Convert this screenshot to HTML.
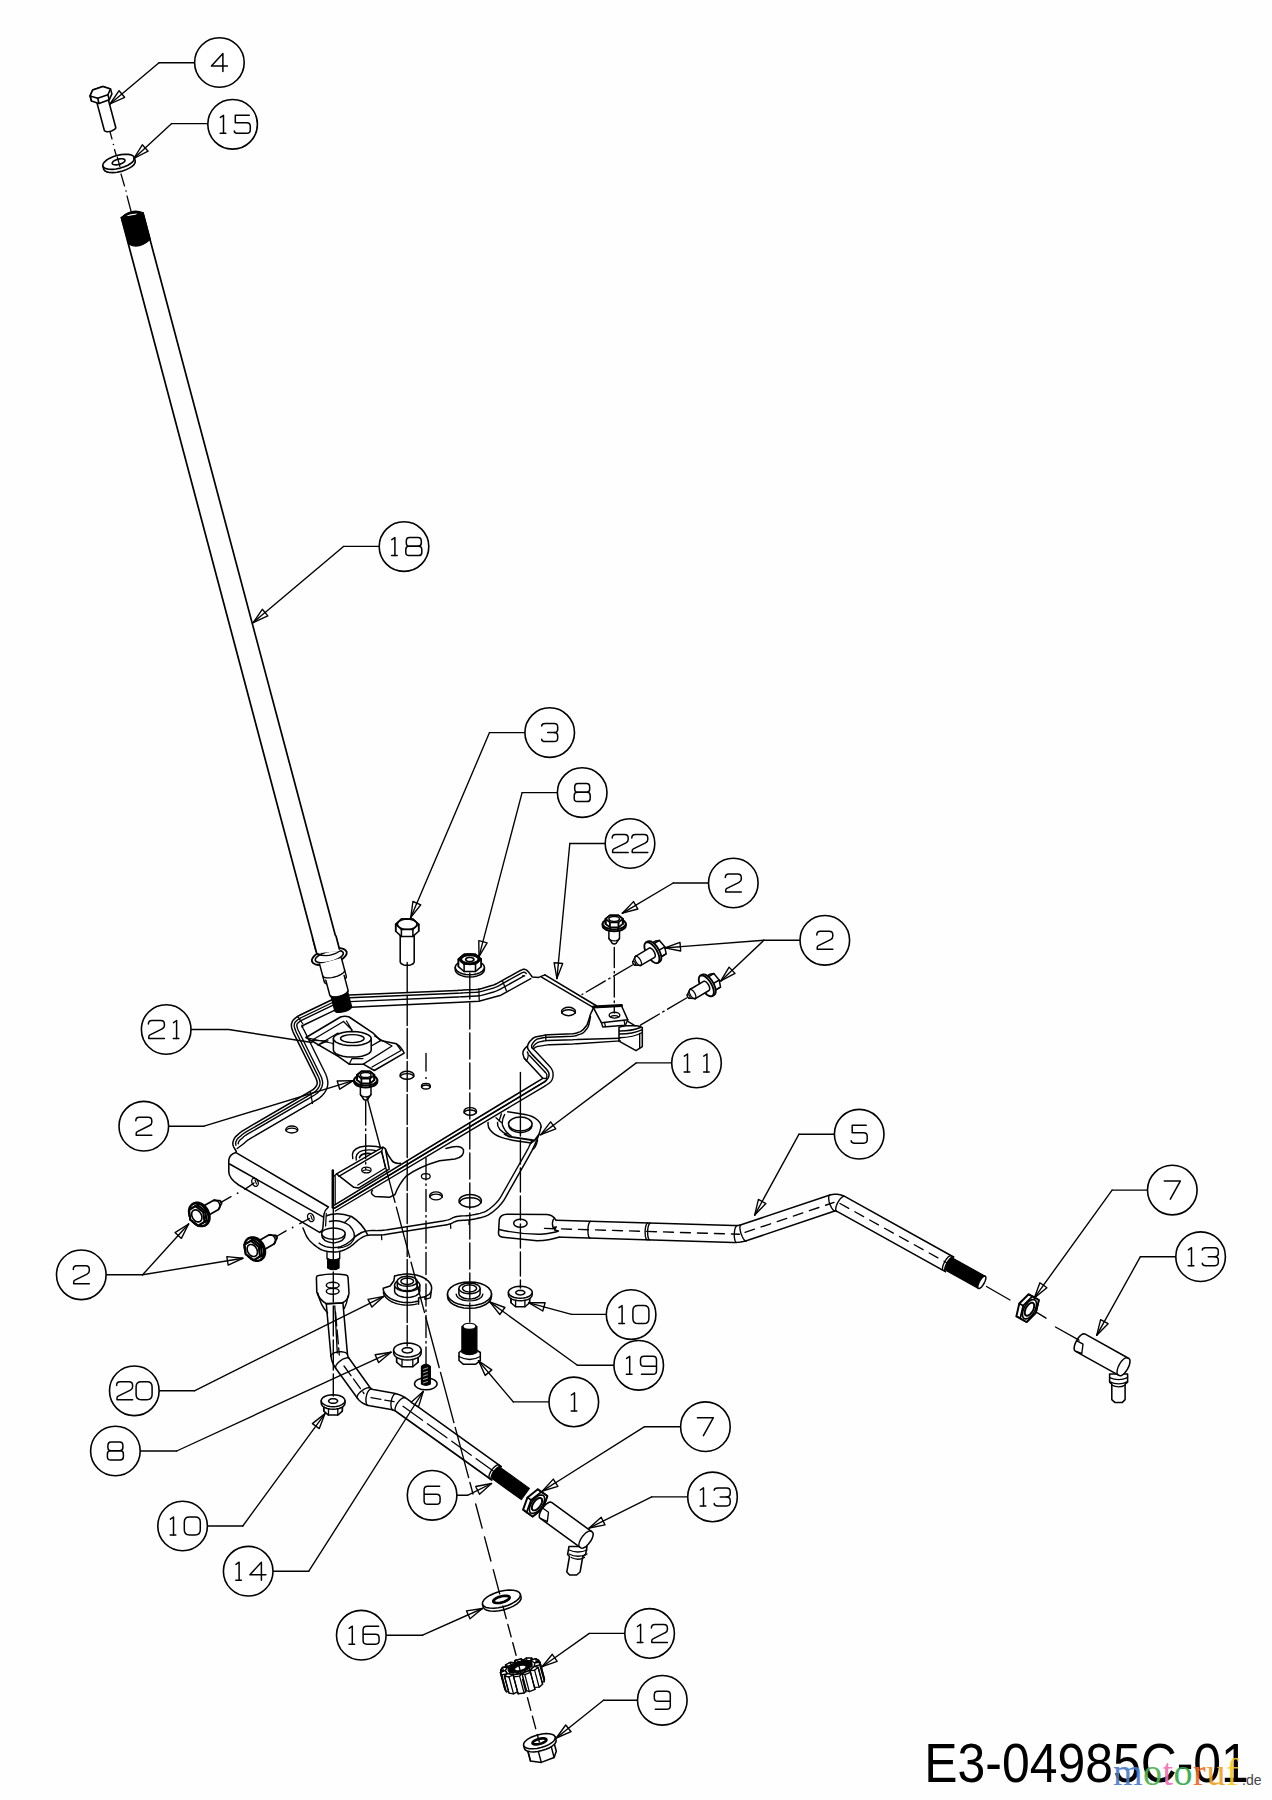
<!DOCTYPE html>
<html><head><meta charset="utf-8"><title>E3-04985C-01</title>
<style>
html,body{margin:0;padding:0;background:#fefefe;}
svg{display:block;}
text{font-family:"Liberation Sans",sans-serif;}
.wm{font-family:"Liberation Serif",serif;}
</style></head><body>
<svg width="1272" height="1800" viewBox="0 0 1272 1800" stroke-linecap="round" stroke-linejoin="round">
<rect x="0" y="0" width="1272" height="1800" fill="#fefefe"/>
<!-- axes -->
<polyline points="109.5,130 112,139" fill="none" stroke="#000" stroke-width="1.25"/>
<polyline points="114.5,149.5 117,158" fill="none" stroke="#000" stroke-width="1.25"/>
<polyline points="121,174 124.5,186" fill="none" stroke="#000" stroke-width="1.25"/>
<polyline points="127,196 131.5,213" fill="none" stroke="#000" stroke-width="1.25"/>
<circle cx="113.4" cy="144.5" r="0.8" fill="#000"/>
<circle cx="126" cy="191" r="0.8" fill="#000"/>
<!-- shaft18 -->
<polyline points="121.3,217.5 316.1,951" fill="none" stroke="#000" stroke-width="1.71"/>
<polyline points="142.9,212.8 338.7,948" fill="none" stroke="#000" stroke-width="1.71"/>
<path d="M121.3 217.5 L128.9 244.3 Q139 249.5 150.3 239.4 L143.2 212.8 Q132 207.5 121.3 217.5Z" fill="#000" stroke="#000" stroke-width="1.14"/>
<ellipse cx="132.2" cy="214.7" rx="8.6" ry="2.6" fill="#000" stroke="#000" stroke-width="1.03" transform="rotate(-12 132.2 214.7)"/>
<ellipse cx="132.2" cy="214.7" rx="5.6" ry="1.2" fill="#fff" stroke="#000" stroke-width="1.03" transform="rotate(-12 132.2 214.7)"/>
<!-- bolt4_washer15 -->
<polyline points="95.9,98.9 104.3,130.3 104.7,130.9 105.4,131.3 106.4,131.6 107.7,131.7 109.1,131.5 110.6,131.2 112.1,130.7 113.4,130.1 114.5,129.4 115.3,128.7 115.7,128 115.7,127.3 107.3,95.9" fill="#fff" stroke="#000" stroke-width="1.6"/>
<polygon points="90.1,95.9 92.7,90 102.9,86.5 110.5,88.9 111.9,93.9 109.2,99.8 99,103.4 91.4,100.9" fill="#fff" stroke="#000" stroke-width="1.6"/>
<polygon points="90.1,95.9 97.7,98.3 107.9,94.8 110.5,88.9 102.9,86.5 92.7,90" fill="#fff" stroke="#000" stroke-width="1.6"/>
<polyline points="90.1,95.9 91.4,100.9" fill="none" stroke="#000" stroke-width="1.6"/>
<polyline points="97.7,98.3 99,103.4" fill="none" stroke="#000" stroke-width="1.6"/>
<polyline points="107.9,94.8 109.2,99.8" fill="none" stroke="#000" stroke-width="1.6"/>
<polyline points="102.8,166 103.7,169.3 104.7,170.8 106.7,171.9 109.5,172.5 113.1,172.6 117,172.3 121.2,171.4 125.2,170.1 128.8,168.4 131.8,166.6 134,164.6 135.1,162.7 135.2,160.9 134.4,157.6" fill="#fff" stroke="#000" stroke-width="1.6"/>
<polygon points="102.8,166 103.8,167.5 105.8,168.6 108.7,169.2 112.2,169.4 116.1,169 120.3,168.1 124.3,166.8 127.9,165.2 130.9,163.3 133.1,161.3 134.2,159.4 134.4,157.6 133.4,156.1 131.4,155 128.5,154.4 125,154.2 121.1,154.6 116.9,155.5 112.9,156.8 109.3,158.4 106.3,160.3 104.1,162.3 103,164.2 102.8,166" fill="#fff" stroke="#000" stroke-width="1.6"/>
<polygon points="112.2,163.5 112.6,164.1 113.4,164.5 114.6,164.8 116,164.9 117.6,164.7 119.3,164.4 120.9,163.8 122.4,163.2 123.6,162.4 124.5,161.6 124.9,160.8 125,160.1 124.6,159.5 123.8,159.1 122.6,158.8 121.2,158.7 119.6,158.9 117.9,159.2 116.3,159.8 114.8,160.4 113.6,161.2 112.7,162 112.3,162.8 112.2,163.5" fill="#fff" stroke="#000" stroke-width="1.6"/>
<polyline points="117.3,157 119.9,166.5" fill="none" stroke="#000" stroke-width="1.25"/>
<!-- plate11 -->
<polyline points="541,1127 540.1,1130.6 539.7,1131.9 539.3,1133.3 538.7,1134.9 538.1,1136.7 537.3,1138.6 536.5,1140.7 535.6,1142.7 534.7,1144.9 533.7,1147 532.7,1149.1 531.7,1151.2 530.6,1153.2 529.4,1155.3 505,1198.4 503.8,1200.4 502.4,1202.3 501,1204.1 499.5,1205.8 497.9,1207.5 496.2,1209 493.3,1211.5 491.5,1212.9 489.6,1214.2 487.6,1215.3 485.6,1216.2 483.4,1216.9 481.2,1217.5 475.8,1218.8 473.6,1219.2 471.4,1219.6 469.2,1219.9 467.1,1220.1 465,1220.3 463,1220.3 461.1,1220.4 459.3,1220.5 457.7,1220.8 456.2,1221.2 454.9,1221.7 453.8,1222.2 452.6,1222.9 451.2,1223.5 449.6,1224 447.8,1224.5 445.8,1224.9 443.6,1225.3 388.2,1234.1 385.9,1234.4 383.6,1234.7 381.3,1234.9 379,1234.9 376.7,1235 374.4,1234.9 372.2,1234.9 370.1,1235 368.2,1235.2 366.4,1235.6 364.7,1236.1 363.2,1236.8 361.8,1237.6 360.4,1238.5 358.9,1239.5 357.5,1240.6 356,1241.9 354.5,1243.2 353,1244.6 351.3,1245.9 349.6,1247.1 347.8,1248.1 346,1249.1 344,1250 342,1250.7 339.9,1251.3 337.8,1251.7 335.6,1251.9 333.3,1252 331,1251.8 329,1251.7 326.7,1251.3 324.5,1250.8 322.4,1250.1 320.3,1249.2 318.4,1248 316.5,1246.7 313.5,1244.3 311.8,1242.8 310.2,1241.3 308.8,1239.6 307.5,1237.8 306.4,1236 305.5,1234 303,1228" fill="none" stroke="#000" stroke-width="1.48"/>
<polyline points="531.3,1142.9 531.6,1141 530.7,1143.1 529.7,1145.1 528.8,1147.2 527.8,1149.2 526.7,1151.2 525.6,1153.1 501.2,1196.2 500.1,1198 498.9,1199.7 497.6,1201.3 496.3,1202.8 494.9,1204.3 493.3,1205.7 490.5,1208.1 488.9,1209.3 487.3,1210.4 485.7,1211.3 483.9,1212.1 482.1,1212.7 480.1,1213.3 474.9,1214.5 472.7,1214.9 470.7,1215.3 468.7,1215.5 466.7,1215.7 464.8,1215.9 462.9,1215.9 460.8,1216 458.7,1216.2 456.8,1216.5 454.9,1217 453.1,1217.6 451.7,1218.3 450.7,1218.9 449.6,1219.3 448.3,1219.8 446.7,1220.2 444.9,1220.6 442.9,1221 387.6,1229.7 385.4,1230.1 383.2,1230.3 381,1230.5 378.9,1230.5 376.7,1230.6 374.5,1230.5 372.1,1230.5 369.7,1230.6 367.4,1230.9 365.2,1231.4 363.2,1232 361.3,1232.9 359.6,1233.8 358,1234.8 356.3,1236 354.7,1237.2 353.1,1238.6 351.6,1240 350.1,1241.2 348.7,1242.3 347.2,1243.4 345.7,1244.3 344,1245.2 342.3,1245.9 340.6,1246.6 338.9,1247 337.1,1247.4 335.3,1247.5 333.4,1247.6 331.4,1247.5 329.5,1247.3 327.5,1247 325.7,1246.6 324,1246 322.4,1245.2 320.8,1244.3 319.1,1243.1" fill="none" stroke="#000" stroke-width="1.37"/>
<polyline points="469,1220.3 469,1224.6" fill="none" stroke="#000" stroke-width="1.25"/>
<polyline points="381.5,1235.2 381.8,1239.6" fill="none" stroke="#000" stroke-width="1.25"/>
<polyline points="450.5,1224.2 450.8,1228.4" fill="none" stroke="#000" stroke-width="1.25"/>
<path d="M507.7 1111.8 L525 1114.6 Q533 1116 537.5 1120 Q541.5 1124 541 1127" fill="none" stroke="#000" stroke-width="1.48"/>
<path d="M504.6 1134.2 L509.3 1136.6 L534.5 1140.5 L539.2 1134.2" fill="none" stroke="#000" stroke-width="1.82"/>
<path d="M488.1 1122.5 Q487.5 1127 490.4 1130.3 Q494 1135 501.4 1137.4 Q508 1139.5 517.2 1140.9 L531.3 1142.9 L534.5 1140.5" fill="none" stroke="#000" stroke-width="1.48"/>
<path d="M497.5 1122.5 Q497 1126 499.9 1129.5 Q502.5 1132.5 506.9 1134.2" fill="none" stroke="#000" stroke-width="1.42"/>
<path d="M504.6 1114.6 Q501.5 1120 502.5 1125 Q504.5 1131.5 511 1135.8" fill="none" stroke="#000" stroke-width="1.42"/>
<polyline points="496,1117.7 501.4,1122.5" fill="none" stroke="#000" stroke-width="1.31"/>
<polyline points="501.4,1113.8 499.1,1121" fill="none" stroke="#000" stroke-width="1.31"/>
<path d="M532.5 1149.5 Q536 1147.5 537.6 1140" fill="none" stroke="#000" stroke-width="1.31"/>
<ellipse cx="520.3" cy="1124" rx="11.8" ry="7" fill="#fff" stroke="#000" stroke-width="1.54"/>
<path d="M508.9 1126.3 Q510 1131.5 520.3 1132.7 Q531 1131.5 531.9 1126.3" fill="none" stroke="#000" stroke-width="1.37"/>
<ellipse cx="470.2" cy="1200.8" rx="11.2" ry="6.4" fill="none" stroke="#000" stroke-width="1.48"/>
<path d="M459.3 1202.7 A11.2 6.4 0 0 1 481.1 1202.7" fill="none" stroke="#000" stroke-width="1.48"/>
<ellipse cx="436" cy="1195.9" rx="6.4" ry="4" fill="none" stroke="#000" stroke-width="1.37"/>
<path d="M429.8 1197.1 A6.4 4 0 0 1 442.2 1197.1" fill="none" stroke="#000" stroke-width="1.37"/>
<ellipse cx="425.8" cy="1176.3" rx="4.4" ry="2.8" fill="none" stroke="#000" stroke-width="1.25"/>
<path d="M446 1148.5 Q461 1144 463.5 1150 Q464.5 1157 455 1159 L439.5 1160.8 Q420 1166.5 406.5 1175.8 Q399 1184 395 1194.5 L389.5 1197.3 L375 1196.4 Q369.5 1194 372.5 1190" fill="none" stroke="#000" stroke-width="1.48"/>
<path d="M324.5 1216.5 Q336 1211 351.5 1216.5 Q362 1223 367.5 1234.6" fill="none" stroke="#000" stroke-width="1.48"/>
<path d="M329.5 1221.5 Q340 1219 349.5 1225.5 Q356.5 1233 353.5 1240 Q349 1247.5 338 1248" fill="none" stroke="#000" stroke-width="1.37"/>
<path d="M344.5 1222.5 L350 1217.5 M355.5 1236 L362 1232" fill="none" stroke="#000" stroke-width="1.25"/>
<ellipse cx="333.4" cy="1233.6" rx="11.8" ry="5.6" fill="#fff" stroke="#000" stroke-width="1.48"/>
<path d="M321.8 1235 Q321.5 1241 333.4 1243.2 Q345.5 1241 345 1235" fill="none" stroke="#000" stroke-width="1.37"/>
<polyline points="327,1251.5 327,1258.8" fill="none" stroke="#000" stroke-width="1.37"/>
<polyline points="339.7,1251.5 339.7,1258.8" fill="none" stroke="#000" stroke-width="1.37"/>
<path d="M327.6 1258.5 L327.6 1268 Q333.4 1271.5 339.1 1268 L339.1 1258.5 Q333.4 1261 327.6 1258.5Z" fill="#000" stroke="#000" stroke-width="1.14"/>
<!-- plate22 -->
<polygon points="236.3,1151.5 232.3,1144.5 234.2,1137.9 241.7,1131.3 304.9,1094.5 314.3,1088.9 317.6,1084 316.6,1079.5 292.8,1031.5 291,1025.5 292.5,1020.5 297.5,1016.3 333.5,999 349.3,995 460,990.3 478.9,989.3 494.6,984.8 521.3,969.9 524.5,969 527.6,970.7 532.3,977 538.6,977.4 544.9,974.9 596.8,1006 622,1005.7 627.5,1020.2 637.7,1026.2 642.4,1028 642.4,1046.9 636.9,1050 620.4,1040.6 546,1043.5 548,1044.8 536.2,1046.7 533.9,1049.5 550.8,1067.5 553.2,1076.9 547,1085.5 335.5,1211.3 328.4,1207 323,1229 319.6,1232.4 238.7,1185 228.8,1174 228.8,1158.6" fill="#fff" stroke="#fff" stroke-width="0.11"/>
<path d="M236 1152.6 L328.4 1207 Q324.5 1210.5 324 1214 L322.9 1228 Q322.5 1231.5 319.6 1232.4 L238.7 1185 Q229 1178.5 228.8 1172 L228.8 1160 Q229.5 1154.5 236 1152.6Z" fill="none" stroke="#000" stroke-width="1.54"/>
<polyline points="229.6,1164 323.4,1217.2" fill="none" stroke="#000" stroke-width="1.48"/>
<polyline points="326.3,1213.5 325.6,1226" fill="none" stroke="#000" stroke-width="1.25"/>
<ellipse cx="255" cy="1182.3" rx="3" ry="4.2" fill="none" stroke="#000" stroke-width="1.37" transform="rotate(-25 255 1182.3)"/>
<ellipse cx="310.8" cy="1217.5" rx="3" ry="4.2" fill="none" stroke="#000" stroke-width="1.37" transform="rotate(-25 310.8 1217.5)"/>
<polyline points="255,1180 256.5,1184" fill="none" stroke="#000" stroke-width="1.14"/>
<polyline points="310.8,1215.5 312.2,1219.5" fill="none" stroke="#000" stroke-width="1.14"/>
<polyline points="236.3,1151.5 233.8,1147.1 233.4,1146.2 233.1,1145.3 232.9,1144.4 232.8,1143.5 232.9,1142.6 233.1,1141.6 233.4,1140.8 233.7,1139.8 234.1,1139 234.6,1138.1 235.1,1137.3 235.7,1136.6 236.5,1135.9 239.4,1133.3 240.2,1132.6 241,1132 241.8,1131.4 242.6,1130.8 243.4,1130.3 244.3,1129.8 302.3,1096 303.2,1095.5 304,1095 304.9,1094.5 305.8,1094 306.6,1093.5 307.5,1093 311.7,1090.4 312.6,1089.9 313.3,1089.3 314.1,1088.7 314.7,1088 315.4,1087.2 316,1086.5 316.4,1085.6 316.8,1084.8 317.1,1084 317.2,1083.3 317.2,1082.5 317.1,1081.8 316.9,1081 316.7,1080.2 316.4,1079.4 316.1,1078.6 315.7,1077.7 315.3,1076.8 294.1,1034.2 293.7,1033.3 293.3,1032.4 292.9,1031.5 292.6,1030.5 292.2,1029.6 291.9,1028.6 291.9,1028.4 291.6,1027.4 291.5,1026.5 291.4,1025.6 291.4,1024.7 291.5,1023.8 291.8,1023 292,1022.2 292.4,1021.4 292.9,1020.6 293.4,1019.9 294.1,1019.2 294.8,1018.6 295.2,1018.2 296,1017.6 296.8,1017 297.6,1016.5 298.4,1015.9 299.3,1015.5 300.2,1015 333.5,999" fill="none" stroke="#000" stroke-width="1.54"/>
<polyline points="235.9,1145.2 235.8,1144.6 235.7,1144.1 235.6,1143.6 235.7,1143 235.8,1142.3 236,1141.6 236.3,1140.9 236.6,1140.2 236.9,1139.6 237.3,1139.1 237.8,1138.5 238.3,1138 241.3,1135.4 242,1134.8 242.7,1134.2 243.4,1133.7 244.2,1133.2 244.9,1132.7 245.7,1132.2 303.7,1098.4 304.6,1097.9 305.5,1097.4 306.3,1096.9 307.2,1096.4 308,1095.9 308.9,1095.4 313.2,1092.8 314.2,1092.2 315.1,1091.5 316,1090.7 316.8,1089.9 317.6,1089 318.3,1088 318.9,1087 319.4,1085.9 319.8,1084.7 320,1083.5 320,1082.3 319.9,1081.2 319.6,1080.2 319.3,1079.3 319,1078.4 318.7,1077.5 318.2,1076.5 317.8,1075.6 296.6,1033 296.2,1032.1 295.9,1031.3 295.5,1030.4 295.2,1029.6 294.9,1028.7 294.6,1027.8 294.6,1027.6 294.4,1026.8 294.3,1026.2 294.2,1025.5 294.2,1024.9 294.3,1024.4 294.4,1023.8 294.6,1023.3 294.9,1022.7 295.2,1022.2 295.6,1021.7 296.1,1021.2 296.6,1020.7 297,1020.4 297.7,1019.8 298.4,1019.3 299.1,1018.8 299.9,1018.4 300.6,1017.9 301.4,1017.5 334.7,1001.5" fill="none" stroke="#000" stroke-width="1.37"/>
<polyline points="238.3,1143.8 238.2,1143.6 238.3,1143.4 238.4,1143 238.5,1142.4 238.7,1141.8 238.9,1141.4 239.1,1141 239.4,1140.7 239.7,1140.3 240.1,1139.9 243,1137.4 243.6,1136.8 244.3,1136.3 244.9,1135.8 245.6,1135.3 246.3,1134.9 247,1134.4 305,1100.7 305.9,1100.2 306.8,1099.7 307.6,1099.1 308.5,1098.6 309.4,1098.1 310.2,1097.6 314.6,1095 315.6,1094.3 316.7,1093.5 317.8,1092.6 318.7,1091.6 319.6,1090.6 320.5,1089.4 321.2,1088.2 321.9,1086.8 322.3,1085.3 322.6,1083.8 322.6,1082.2 322.4,1080.7 322.1,1079.6 321.8,1078.5 321.5,1077.5 321.1,1076.5 320.6,1075.5 320.1,1074.5 299,1031.8 298.6,1031 298.3,1030.3 297.9,1029.5 297.6,1028.7 297.4,1027.9 297.1,1027 297.1,1026.9 296.9,1026.3 296.8,1025.9 296.8,1025.5 296.8,1025.1 296.9,1024.8 296.9,1024.6 297,1024.3 297.2,1024 297.3,1023.7 297.6,1023.4 297.9,1023.1 298.4,1022.6 298.6,1022.4 299.3,1021.9 299.9,1021.4 300.5,1021 301.2,1020.6 301.9,1020.2 302.6,1019.8 335.8,1003.9" fill="none" stroke="#000" stroke-width="1.37"/>
<polyline points="237.2,1148.5 243.6,1143.7 243.6,1143.7 243.5,1143.8 243.5,1143.9 243.5,1143.9 243.6,1143.7 246.4,1141.3 247,1140.8 247.5,1140.4 248,1140 248.5,1139.6 249.1,1139.3 249.7,1138.9 307.6,1105.2 308.5,1104.7 309.4,1104.1 310.3,1103.6 311.2,1103.1 312,1102.6 312.9,1102.1 317.3,1099.4 318.6,1098.6 320,1097.5 321.3,1096.4 322.6,1095.1 323.7,1093.8 324.8,1092.3 325.8,1090.6 326.7,1088.7 327.4,1086.6 327.8,1084.3 327.8,1081.8 327.5,1079.7 327.1,1078.2 326.8,1076.9 326.3,1075.7 325.9,1074.5 325.3,1073.3 324.8,1072.2 303.7,1029.5 303.3,1028.8 303,1028.2 302.8,1027.6 302.5,1026.9 302.3,1026.2 302.1,1025.5 302.1,1025.5 302,1025.2 302,1025.3 302,1025.4 302,1025.6 302,1025.8 301.9,1026 301.8,1026.3 301.7,1026.5 301.6,1026.7 301.6,1026.7 301.6,1026.8 301.8,1026.5 301.9,1026.4 302.5,1026 302.9,1025.7 303.4,1025.4 303.8,1025.1 304.3,1024.8 304.9,1024.5 338.1,1008.6" fill="none" stroke="#000" stroke-width="1.42"/>
<polyline points="349.3,995 457,990.4 458,990.4 459,990.3 460,990.3 461,990.2 462,990.2 463,990.1 475.9,989.5 476.9,989.4 477.9,989.3 478.9,989.1 479.8,989 480.8,988.7 481.8,988.5 491.7,985.6 492.7,985.3 493.6,985 494.5,984.6 495.4,984.2 496.3,983.8 497.2,983.3 518.7,971.4 519.5,970.9 520.3,970.5 521,970.2 521.7,969.9 522.3,969.6 522.9,969.4 523.4,969.3 524,969.3 524.5,969.3 525,969.4 525.5,969.6 526.1,969.9 526.6,970.2 527.1,970.6 527.7,971.1 528.2,971.7 528.8,972.3 529.4,973.1 532.3,977 538.6,977.4 544.9,974.9" fill="none" stroke="#000" stroke-width="1.54"/>
<polyline points="349.4,997.8 457.1,993.2 458.1,993.2 459.1,993.1 460.1,993.1 461.1,993 462.1,993 463.1,992.9 476.1,992.3 477.2,992.2 478.2,992.1 479.3,991.9 480.4,991.7 481.5,991.4 482.5,991.2 492.5,988.3 493.5,988 494.6,987.6 495.6,987.2 496.6,986.8 497.6,986.3 498.6,985.8 520,973.8 520.8,973.4 521.6,973 522.2,972.7 522.8,972.5 523.3,972.3 523.6,972.2 523.8,972.1 524,972.1 524.1,972.1 524.3,972.1 524.5,972.2 524.7,972.3 525,972.5 525.3,972.7 525.7,973.1 526.2,973.6" fill="none" stroke="#000" stroke-width="1.37"/>
<polyline points="349.6,1001.6 457.3,997 458.3,997 459.3,996.9 460.3,996.9 461.3,996.8 462.3,996.8 463.3,996.7 476.3,996 477.5,996 478.7,995.8 480,995.6 481.2,995.4 482.4,995.1 483.5,994.8 493.6,992 494.7,991.6 495.9,991.2 497.1,990.7 498.2,990.2 499.3,989.7 500.4,989.1 521.9,977.1 522.6,976.7 523.2,976.4 523.8,976.2 524.2,976 524.5,975.9 524.6,975.8 524.4,975.9 524,975.9 523.7,975.9 523.3,975.8 523.1,975.7 522.9,975.6 522.8,975.6" fill="none" stroke="#000" stroke-width="1.37"/>
<polyline points="350.8,1007.2 460,1002.3 478.9,1001.3 500.9,995.2 530.8,978.7" fill="none" stroke="#000" stroke-width="1.42"/>
<polyline points="478.9,989.3 479.2,1000.3" fill="none" stroke="#000" stroke-width="1.25"/>
<polyline points="502.5,981 506.5,991" fill="none" stroke="#000" stroke-width="1.25"/>
<polyline points="310.5,1092 312.5,1103.5" fill="none" stroke="#000" stroke-width="1.25"/>
<polyline points="297.5,1016.3 303,1024" fill="none" stroke="#000" stroke-width="1.25"/>
<polyline points="544.9,974.9 596.8,1006" fill="none" stroke="#000" stroke-width="1.54"/>
<polyline points="541.5,977.2 593.6,1007.6" fill="none" stroke="#000" stroke-width="1.42"/>
<polygon points="593.2,1007.3 621.5,1005.7 627.8,1019.8 601.4,1022.7" fill="#fff" stroke="#000" stroke-width="1.54"/>
<polyline points="593.2,1007 621.5,1005.4" fill="none" stroke="#000" stroke-width="2.96"/>
<polyline points="601.4,1022.7 602.8,1027 625.3,1025.2 627.8,1019.8" fill="none" stroke="#000" stroke-width="1.42"/>
<polyline points="604.5,1022.5 605.5,1026.7" fill="none" stroke="#000" stroke-width="1.25"/>
<polyline points="624,1020.4 625,1025.2" fill="none" stroke="#000" stroke-width="1.25"/>
<ellipse cx="614.5" cy="1015.2" rx="5.3" ry="2.9" fill="none" stroke="#000" stroke-width="1.42"/>
<path d="M610.2 1016.9 A5.3 2.9 0 0 1 618.8 1016.9" fill="none" stroke="#000" stroke-width="1.25"/>
<path d="M619 1027.3 Q622.5 1026.3 626.5 1025.8 L636.6 1025.8 Q640.5 1026.3 642.3 1027.7 L642.3 1046.6 L636 1050.7 L619 1041.2 Z" fill="#fff" stroke="#000" stroke-width="1.54"/>
<polyline points="627.8,1021.4 635.3,1025.8" fill="none" stroke="#000" stroke-width="1.37"/>
<path d="M619.5 1031 Q632 1031 640.5 1027.5" fill="none" stroke="#000" stroke-width="1.37"/>
<path d="M619.5 1034 Q633 1034 641.8 1029.8" fill="none" stroke="#000" stroke-width="1.37"/>
<path d="M619.5 1037.7 Q634 1037.3 642.2 1032.5" fill="none" stroke="#000" stroke-width="1.37"/>
<polyline points="639.7,1033.5 639.7,1048.2" fill="none" stroke="#000" stroke-width="1.37"/>
<polyline points="593.6,1007.6 591.6,1011.8 591.2,1012.5 590.9,1013.3 590.6,1014 590.3,1014.8 590,1015.6 589.8,1016.4 588.1,1022.1 587.8,1022.9 587.5,1023.6 587.2,1024.4 586.8,1025.1 586.3,1025.8 585.8,1026.4 583.6,1029.1 583,1029.7 582.5,1030.2 581.8,1030.7 581.1,1031.2 580.4,1031.6 579.7,1031.9 577.3,1032.8 576.6,1033.1 575.8,1033.3 575,1033.5 574.1,1033.6 573.3,1033.7 572.5,1033.8 548.2,1034.8 547.4,1034.8 546.5,1034.9 545.7,1035 544.9,1035.1 544.1,1035.2 543.3,1035.4 536.3,1036.8 535.6,1037 534.8,1037.3 534.1,1037.6 533.4,1038 532.7,1038.5 532.1,1039.1 530.5,1040.7 529.9,1041.3 529.4,1042 528.9,1042.7 528.5,1043.4 528.2,1044.1 527.9,1044.9 527.8,1045.2 527.6,1046 527.5,1046.8 527.6,1047.5 527.7,1048.3 528,1049 528.4,1049.7 529.2,1050.7 529.7,1051.4 530.2,1052.1 530.7,1052.7 531.2,1053.4 531.8,1054 532.3,1054.6 545.8,1068.5 546.3,1069.1 546.8,1069.7 547.3,1070.3 547.7,1070.8 548,1071.4 548.4,1071.9 548.6,1072.4 548.8,1073 548.9,1073.6 549,1074.1 549,1074.7 549,1075.3 548.9,1076 548.7,1076.6 548.5,1077.2 548.1,1077.9 547.7,1078.5 547.2,1079.2 546.7,1079.8 546.2,1080.4 545.6,1080.9 544.9,1081.5 544.3,1081.9 543.6,1082.4 334.6,1208.1" fill="none" stroke="#000" stroke-width="1.54"/>
<polyline points="590.5,1016.5 589,1024 588.8,1024.9 588.5,1025.6 588.2,1026.4 587.9,1027.1 587.5,1027.8 587,1028.5 585,1031 584.5,1031.6 583.9,1032.2 583.3,1032.7 582.6,1033.2 581.9,1033.5 581.2,1033.9 577.3,1035.2 576.6,1035.5 575.8,1035.7 575,1035.9 574.2,1036.1 573.3,1036.1 572.5,1036.2 548.2,1037.2 547.4,1037.2 546.5,1037.3 545.7,1037.4 544.9,1037.5 544.1,1037.6 543.2,1037.8 538.7,1038.7 537.9,1038.9 537.1,1039.2 536.4,1039.5 535.7,1040 535.1,1040.5 534.5,1041.1 533.7,1042 533.1,1042.7 532.7,1043.3 532.3,1043.9 532,1044.5 531.8,1045.1 531.6,1045.8 531.6,1046.3 531.6,1046.9 531.7,1047.4 531.9,1047.8 532.2,1048.2 532.6,1048.5 533,1048.9 533.5,1049.3 534,1049.7 534.5,1050.2 535.1,1050.7 535.6,1051.3 549.1,1065.7 549.6,1066.3 550.2,1066.9 550.6,1067.5 551.1,1068.1 551.5,1068.7 551.8,1069.3 552.2,1070 552.4,1070.7 552.7,1071.4 552.8,1072.1 553,1072.9 553,1073.7 553.1,1074.4 553.1,1075.2 553,1076 552.9,1076.9 552.8,1077.7 552.5,1078.4 552.3,1079.2 552.2,1079.3 551.9,1080 551.5,1080.7 551,1081.4 550.5,1082 549.9,1082.5 549.3,1083 548.5,1083.6 547.9,1084 547.2,1084.5 546.5,1085 545.8,1085.4 545.1,1085.8 544.4,1086.3 335.3,1211" fill="none" stroke="#000" stroke-width="1.42"/>
<polyline points="619.8,1038.2 577,1039.5 576.3,1039.6 575.7,1039.6 575,1039.6 574.3,1039.6 573.7,1039.6 573,1039.7 547.7,1040.5 547,1040.6 546.4,1040.6 545.7,1040.7 545.1,1040.8 544.4,1040.9 543.7,1041 539.6,1041.9 538.9,1042 538.3,1042.3 537.7,1042.5 537.1,1042.8 536.6,1043.2 536,1043.6 535.5,1044 535,1044.5 534.5,1044.9 534.1,1045.3 533.8,1045.8 533.5,1046.3 533.2,1046.8 532.6,1048.2" fill="none" stroke="#000" stroke-width="1.37"/>
<polyline points="620.4,1040.9 577,1043.8 576.3,1043.8 575.7,1043.8 575,1043.9 574.3,1043.9 573.7,1043.9 573,1044 550,1044.7 549.3,1044.8 548.7,1044.8 548,1044.9 547.3,1044.9 546.7,1045 546,1045.1 538.2,1046.4 537.5,1046.5 536.9,1046.7 536.4,1046.9 535.8,1047.1 535.4,1047.4 534.9,1047.8 533.6,1048.8" fill="none" stroke="#000" stroke-width="1.42"/>
<polyline points="545.7,1034.9 545.9,1040.6" fill="none" stroke="#000" stroke-width="1.37"/>
<path d="M527 1046.4 Q522.3 1050.5 522.9 1054 Q523.5 1058.5 526.5 1061" fill="none" stroke="#000" stroke-width="1.54"/>
<polyline points="524.3,1058.3 542.8,1078.3" fill="none" stroke="#000" stroke-width="1.54"/>
<polyline points="529.2,1055.2 545.2,1072.2" fill="none" stroke="#000" stroke-width="1.37"/>
<path d="M527.3 1052 Q529.5 1055 526.8 1060.2" fill="none" stroke="#000" stroke-width="1.31"/>
<path d="M545.2 1072.2 Q548 1074.5 546.3 1078.5 L542.8 1078.3" fill="none" stroke="#000" stroke-width="1.31"/>
<polyline points="542.8,1078.3 334.4,1205.1" fill="none" stroke="#000" stroke-width="1.54"/>
<polyline points="545.7,1081.1 334.6,1208.1" fill="none" stroke="#000" stroke-width="1.42"/>
<ellipse cx="568.5" cy="1011.5" rx="7" ry="4.2" fill="none" stroke="#000" stroke-width="1.42"/>
<path d="M561.7 1013 A7 4.2 0 0 1 575.3 1013" fill="none" stroke="#000" stroke-width="1.42"/>
<ellipse cx="470.2" cy="1111.4" rx="6.3" ry="3.8" fill="none" stroke="#000" stroke-width="1.42"/>
<path d="M464.1 1112.8 A6.3 3.8 0 0 1 476.3 1112.8" fill="none" stroke="#000" stroke-width="1.42"/>
<ellipse cx="407" cy="1075.2" rx="7" ry="4" fill="none" stroke="#000" stroke-width="1.42"/>
<path d="M400.2 1076.7 A7 4 0 0 1 413.8 1076.7" fill="none" stroke="#000" stroke-width="1.42"/>
<ellipse cx="425.9" cy="1086.2" rx="4.5" ry="2.8" fill="none" stroke="#000" stroke-width="1.31"/>
<path d="M421.5 1087.2 A4.5 2.8 0 0 1 430.3 1087.2" fill="none" stroke="#000" stroke-width="1.31"/>
<ellipse cx="291.8" cy="1129.5" rx="6" ry="3.5" fill="none" stroke="#000" stroke-width="1.42"/>
<path d="M286 1130.7 A6 3.5 0 0 1 297.6 1130.7" fill="none" stroke="#000" stroke-width="1.42"/>
<!-- small_tab -->
<path d="M352.8 1158.5 Q350.5 1150 360 1147 Q371 1144.5 383.5 1148" fill="none" stroke="#000" stroke-width="1.48"/>
<path d="M356.3 1160 Q355 1153 362.5 1150.7 Q370 1149 377 1151" fill="none" stroke="#000" stroke-width="1.37"/>
<path d="M359.5 1157.5 Q360.5 1154.5 365 1153.6 Q369 1153 372.5 1154.2" fill="none" stroke="#000" stroke-width="1.71"/>
<path d="M363 1160 Q364.5 1157.5 368.5 1157.3" fill="none" stroke="#000" stroke-width="1.71"/>
<path d="M385.3 1148.7 Q387.5 1155 391.5 1160 Q394 1164 400.5 1163.3" fill="none" stroke="#000" stroke-width="1.48"/>
<polygon points="336.5,1173.9 382.9,1147.2 385.3,1148.7 389.2,1169.2 358.5,1188.1 353.8,1187.3" fill="#fff" stroke="#000" stroke-width="1.54"/>
<polyline points="338.8,1176.3 381.7,1151.2 385.5,1168 357.8,1185" fill="none" stroke="#000" stroke-width="1.37"/>
<polyline points="381.7,1151.2 382.9,1147.2" fill="none" stroke="#000" stroke-width="1.25"/>
<ellipse cx="366.4" cy="1170" rx="4.7" ry="2.9" fill="none" stroke="#000" stroke-width="1.37"/>
<path d="M362.4 1171.2 A4.7 2.9 0 0 1 370.4 1171.2" fill="none" stroke="#000" stroke-width="1.14"/>
<polyline points="332.8,1170.5 332.8,1207.5" fill="none" stroke="#000" stroke-width="2.51"/>
<polyline points="334.3,1176 336.5,1173.9" fill="none" stroke="#000" stroke-width="1.37"/>
<polyline points="335.2,1176.5 335.2,1204" fill="none" stroke="#000" stroke-width="1.25"/>
<!-- bracket21 -->
<path d="M306 1037.5 L340.5 1017 Q345 1015.5 349.2 1017 L372.8 1032.8 L380.6 1040.6 L396.4 1043.8 Q401.5 1047 404.2 1053.2 L374.3 1070.5 L363.3 1064.2 L349.2 1064.2 L338.2 1056.4 Z" fill="#fff" stroke="#000" stroke-width="1.54"/>
<polyline points="311.5,1040.5 343.5,1021.5" fill="none" stroke="#000" stroke-width="1.37"/>
<polyline points="318,1045 338,1033" fill="none" stroke="#000" stroke-width="1.37"/>
<polyline points="343.5,1021.5 352,1030 346.5,1021" fill="none" stroke="#000" stroke-width="1.25"/>
<polyline points="352,1030 349.5,1033.5" fill="none" stroke="#000" stroke-width="1.25"/>
<polyline points="311.5,1040.5 328,1040.8 318,1045" fill="none" stroke="#000" stroke-width="1.25"/>
<polyline points="306,1037.5 333,1043.5" fill="none" stroke="#000" stroke-width="1.25"/>
<polyline points="338.2,1056.4 333,1043.5" fill="none" stroke="#000" stroke-width="1.25"/>
<polyline points="374.5,1036 392,1046 363.3,1064.2" fill="none" stroke="#000" stroke-width="1.37"/>
<polyline points="380.6,1040.6 366,1049" fill="none" stroke="#000" stroke-width="1.31"/>
<polyline points="396.4,1043.8 401,1050.5 372,1067" fill="none" stroke="#000" stroke-width="1.31"/>
<polyline points="349.2,1064.2 352,1058.5 363,1058.5" fill="none" stroke="#000" stroke-width="1.25"/>
<polyline points="333.4,1038.6 333.4,1050.1 334,1051.9 335.9,1053.6 338.9,1055 342.9,1056.2 347.4,1056.9 352.3,1057.1 357.2,1056.9 361.8,1056.2 365.7,1055 368.7,1053.6 370.6,1051.9 371.2,1050.1 371.2,1038.6" fill="#fff" stroke="#000" stroke-width="1.54"/>
<polygon points="333.4,1038.6 334,1040.4 335.9,1042.1 338.9,1043.5 342.9,1044.7 347.4,1045.4 352.3,1045.6 357.2,1045.4 361.8,1044.7 365.7,1043.5 368.7,1042.1 370.6,1040.4 371.2,1038.6 370.6,1036.8 368.7,1035.1 365.7,1033.7 361.8,1032.5 357.2,1031.8 352.3,1031.6 347.4,1031.8 342.9,1032.5 338.9,1033.7 335.9,1035.1 334,1036.8 333.4,1038.6" fill="#fff" stroke="#000" stroke-width="1.54"/>
<ellipse cx="352.3" cy="1038.6" rx="11.8" ry="4" fill="none" stroke="#000" stroke-width="1.42"/>
<!-- shaft18_bottom -->
<polygon points="311.9,961.2 313,963 315.2,964.3 318.4,965 322.3,965.2 326.7,964.9 331.2,963.9 335.7,962.5 339.7,960.6 343,958.5 345.3,956.2 346.6,954 346.7,952 345.6,950.2 343.4,948.9 340.2,948.2 336.3,948 331.9,948.3 327.4,949.3 322.9,950.7 318.9,952.6 315.6,954.7 313.3,957 312,959.2 311.9,961.2" fill="#fff" stroke="#000" stroke-width="1.82"/>
<polygon points="315.3,960.3 316.1,961.5 317.8,962.4 320.3,962.8 323.5,962.8 327,962.4 330.6,961.6 334.2,960.5 337.5,959.1 340.2,957.5 342.1,955.9 343.2,954.3 343.3,952.9 342.5,951.7 340.8,950.8 338.3,950.4 335.1,950.4 331.6,950.8 328,951.6 324.4,952.7 321.1,954.1 318.4,955.7 316.5,957.3 315.4,958.9 315.3,960.3" fill="none" stroke="#000" stroke-width="1.6"/>
<polygon points="312.6,938 316.7,953.3 340,951 336,936" fill="#fff" stroke="#fff" stroke-width="0.11"/>
<polyline points="312.6,938 316.8,953.8" fill="none" stroke="#000" stroke-width="1.71"/>
<polyline points="336,936 339.4,949" fill="none" stroke="#000" stroke-width="1.71"/>
<path d="M316.8 953.8 Q328.5 958.5 340 951" fill="none" stroke="#000" stroke-width="1.37"/>
<polyline points="319.5,963.9 324.4,982.2 325.1,983.1 326.4,983.8 328.4,984.1 330.8,984.2 333.5,983.9 336.4,983.2 339.2,982.4 341.7,981.3 343.8,980 345.3,978.8 346.2,977.5 346.3,976.4 341.4,958" fill="#fff" stroke="#000" stroke-width="1.48"/>
<polyline points="322.8,975.9 323.4,976.9 324.7,977.5 326.7,977.9 329.1,977.9 331.9,977.6 334.7,977 337.5,976.1 340,975 342.1,973.7 343.7,972.5 344.5,971.2 344.6,970.1" fill="none" stroke="#000" stroke-width="1.37"/>
<polyline points="325.8,980.3 329.8,995.3 330.3,996.1 331.4,996.6 333.1,996.9 335.1,996.9 337.4,996.7 339.8,996.1 342.2,995.4 344.3,994.5 346.1,993.4 347.3,992.4 348.1,991.3 348.1,990.4 344.1,975.4" fill="#fff" stroke="#000" stroke-width="1.48"/>
<polygon points="330.7,995.6 334.8,1011 335.5,1011.8 336.9,1012.4 338.9,1012.5 341.4,1012.3 344,1011.8 346.6,1011 348.8,1009.9 350.5,1008.7 351.5,1007.6 351.6,1006.5 347.5,991.1 347.3,992.1 346.4,993.3 344.7,994.4 342.5,995.5 339.9,996.3 337.3,996.9 334.8,997.1 332.8,996.9 331.3,996.4 330.7,995.6" fill="#000" stroke="#000" stroke-width="1.14"/>
<!-- top_fasteners -->
<polyline points="400.2,931.2 400.2,961.7 400.4,962.6 401.1,963.5 402.3,964.3 403.7,964.9 405.4,965.2 407.2,965.3 409,965.2 410.7,964.9 412.1,964.3 413.3,963.5 414,962.6 414.2,961.7 414.2,931.2" fill="#fff" stroke="#000" stroke-width="1.54"/>
<polygon points="395.7,924.2 401.4,919 412.9,919 418.7,924.2 418.7,931.2 412.9,936.4 401.4,936.4 395.7,931.2" fill="#fff" stroke="#000" stroke-width="1.54"/>
<polygon points="395.7,924.2 401.4,929.4 412.9,929.4 418.7,924.2 412.9,919 401.4,919" fill="#fff" stroke="#000" stroke-width="1.54"/>
<polyline points="395.7,924.2 395.7,931.2" fill="none" stroke="#000" stroke-width="1.54"/>
<polyline points="401.4,929.4 401.4,936.4" fill="none" stroke="#000" stroke-width="1.54"/>
<polyline points="412.9,929.4 412.9,936.4" fill="none" stroke="#000" stroke-width="1.54"/>
<polyline points="418.7,924.2 418.7,931.2" fill="none" stroke="#000" stroke-width="1.54"/>
<polygon points="397.5,924.2 397.9,925.5 398.8,926.7 400.4,927.8 402.4,928.6 404.7,929.1 407.2,929.2 409.7,929.1 412,928.6 414,927.8 415.6,926.7 416.5,925.5 416.9,924.2 416.5,922.9 415.6,921.7 414,920.6 412,919.8 409.7,919.3 407.2,919.2 404.7,919.3 402.4,919.8 400.4,920.6 398.8,921.7 397.9,922.9 397.5,924.2" fill="none" stroke="#000" stroke-width="1.39"/>
<polyline points="455.2,967.4 455.2,969.6 455.7,971.5 457.2,973.3 459.5,974.8 462.5,975.9 466,976.7 469.8,976.9 473.6,976.7 477.1,975.9 480.1,974.8 482.4,973.3 483.9,971.5 484.4,969.6 484.4,967.4" fill="#fff" stroke="#000" stroke-width="1.54"/>
<polygon points="455.2,967.4 455.7,969.3 457.2,971.1 459.5,972.6 462.5,973.7 466,974.5 469.8,974.7 473.6,974.5 477.1,973.7 480.1,972.6 482.4,971.1 483.9,969.3 484.4,967.4 483.9,965.5 482.4,963.8 480.1,962.2 477.1,961.1 473.6,960.3 469.8,960.1 466,960.3 462.5,961.1 459.5,962.2 457.2,963.8 455.7,965.5 455.2,967.4" fill="#fff" stroke="#000" stroke-width="1.54"/>
<polygon points="458.4,959.2 464.1,954.3 475.5,954.3 481.2,959.2 481.2,966.6 475.5,971.5 464.1,971.5 458.4,966.6" fill="#fff" stroke="#000" stroke-width="1.54"/>
<polygon points="458.4,959.2 464.1,964.1 475.5,964.1 481.2,959.2 475.5,954.3 464.1,954.3" fill="#fff" stroke="#000" stroke-width="1.54"/>
<polyline points="458.4,959.2 458.4,966.6" fill="none" stroke="#000" stroke-width="1.54"/>
<polyline points="464.1,964.1 464.1,971.5" fill="none" stroke="#000" stroke-width="1.54"/>
<polyline points="475.5,964.1 475.5,971.5" fill="none" stroke="#000" stroke-width="1.54"/>
<polyline points="481.2,959.2 481.2,966.6" fill="none" stroke="#000" stroke-width="1.54"/>
<polygon points="460.7,959.2 461,960.4 461.9,961.5 463.4,962.4 465.2,963.1 467.4,963.6 469.8,963.8 472.2,963.6 474.4,963.1 476.2,962.4 477.7,961.5 478.6,960.4 478.9,959.2 478.6,958 477.7,956.9 476.2,956 474.4,955.3 472.2,954.8 469.8,954.6 467.4,954.8 465.2,955.3 463.4,956 461.9,956.9 461,958 460.7,959.2" fill="#fff" stroke="#000" stroke-width="2.92"/>
<polygon points="465.7,959.5 465.8,960 466.2,960.5 466.9,961 467.7,961.3 468.7,961.5 469.8,961.6 470.9,961.5 471.9,961.3 472.7,961 473.4,960.5 473.8,960 473.9,959.5 473.8,959 473.4,958.5 472.7,958 471.9,957.7 470.9,957.5 469.8,957.4 468.7,957.5 467.7,957.7 466.9,958 466.2,958.5 465.8,959 465.7,959.5" fill="none" stroke="#000" stroke-width="1.69"/>
<polyline points="608.9,925.8 608.9,938.3 612,942.9 612.3,943.4 613.1,943.8 614.2,943.9 615.3,943.8 616.1,943.4 616.4,942.9 619.5,938.3 619.5,925.8" fill="#fff" stroke="#000" stroke-width="1.48"/>
<polyline points="608.9,938.3 609.3,939.3 610.5,940.1 612.2,940.6 614.2,940.8 616.2,940.6 617.9,940.1 619.1,939.3 619.5,938.3" fill="none" stroke="#000" stroke-width="1.26"/>
<polyline points="602.6,923.9 602.6,925.8 603,927.2 604.2,928.5 606,929.7 608.4,930.5 611.2,931.1 614.2,931.3 617.2,931.1 620,930.5 622.4,929.7 624.2,928.5 625.4,927.2 625.8,925.8 625.8,923.9" fill="#fff" stroke="#000" stroke-width="2"/>
<polygon points="602.6,923.9 603,925.3 604.2,926.6 606,927.8 608.4,928.6 611.2,929.2 614.2,929.4 617.2,929.2 620,928.6 622.4,927.8 624.2,926.6 625.4,925.3 625.8,923.9 625.4,922.5 624.2,921.2 622.4,920 620,919.2 617.2,918.6 614.2,918.4 611.2,918.6 608.4,919.2 606,920 604.2,921.2 603,922.5 602.6,923.9" fill="#fff" stroke="#000" stroke-width="2"/>
<polygon points="605.6,918.9 609.9,915.4 618.5,915.4 622.8,918.9 622.8,923.9 618.5,927.4 609.9,927.4 605.6,923.9" fill="#fff" stroke="#000" stroke-width="1.85"/>
<polygon points="605.6,918.9 609.9,922.4 618.5,922.4 622.8,918.9 618.5,915.4 609.9,915.4" fill="#fff" stroke="#000" stroke-width="1.85"/>
<polyline points="605.6,918.9 605.6,923.9" fill="none" stroke="#000" stroke-width="1.85"/>
<polyline points="609.9,922.4 609.9,927.4" fill="none" stroke="#000" stroke-width="1.85"/>
<polyline points="618.5,922.4 618.5,927.4" fill="none" stroke="#000" stroke-width="1.85"/>
<polyline points="622.8,918.9 622.8,923.9" fill="none" stroke="#000" stroke-width="1.85"/>
<polygon points="608.9,918.9 609,919.5 609.6,920.2 610.4,920.7 611.5,921.1 612.8,921.3 614.2,921.4 615.6,921.3 616.9,921.1 618,920.7 618.8,920.2 619.4,919.5 619.5,918.9 619.4,918.3 618.8,917.6 618,917.1 616.9,916.7 615.6,916.5 614.2,916.4 612.8,916.5 611.5,916.7 610.4,917.1 609.6,917.6 609,918.3 608.9,918.9" fill="none" stroke="#000" stroke-width="1.41"/>
<polyline points="360.4,1081.9 360.4,1094.4 363.5,1099 363.8,1099.5 364.6,1099.9 365.7,1100 366.8,1099.9 367.6,1099.5 367.9,1099 371,1094.4 371,1081.9" fill="#fff" stroke="#000" stroke-width="1.48"/>
<polyline points="360.4,1094.4 360.8,1095.4 362,1096.2 363.7,1096.7 365.7,1096.9 367.7,1096.7 369.4,1096.2 370.6,1095.4 371,1094.4" fill="none" stroke="#000" stroke-width="1.26"/>
<polyline points="354.1,1080 354.1,1081.9 354.5,1083.3 355.7,1084.6 357.5,1085.8 359.9,1086.6 362.7,1087.2 365.7,1087.4 368.7,1087.2 371.5,1086.6 373.9,1085.8 375.7,1084.6 376.9,1083.3 377.3,1081.9 377.3,1080" fill="#fff" stroke="#000" stroke-width="2"/>
<polygon points="354.1,1080 354.5,1081.4 355.7,1082.7 357.5,1083.9 359.9,1084.7 362.7,1085.3 365.7,1085.5 368.7,1085.3 371.5,1084.7 373.9,1083.9 375.7,1082.7 376.9,1081.4 377.3,1080 376.9,1078.6 375.7,1077.3 373.9,1076.1 371.5,1075.3 368.7,1074.7 365.7,1074.5 362.7,1074.7 359.9,1075.3 357.5,1076.1 355.7,1077.3 354.5,1078.6 354.1,1080" fill="#fff" stroke="#000" stroke-width="2"/>
<polygon points="357.1,1075 361.4,1071.5 370,1071.5 374.3,1075 374.3,1080 370,1083.5 361.4,1083.5 357.1,1080" fill="#fff" stroke="#000" stroke-width="1.85"/>
<polygon points="357.1,1075 361.4,1078.5 370,1078.5 374.3,1075 370,1071.5 361.4,1071.5" fill="#fff" stroke="#000" stroke-width="1.85"/>
<polyline points="357.1,1075 357.1,1080" fill="none" stroke="#000" stroke-width="1.85"/>
<polyline points="361.4,1078.5 361.4,1083.5" fill="none" stroke="#000" stroke-width="1.85"/>
<polyline points="370,1078.5 370,1083.5" fill="none" stroke="#000" stroke-width="1.85"/>
<polyline points="374.3,1075 374.3,1080" fill="none" stroke="#000" stroke-width="1.85"/>
<polygon points="360.4,1075 360.5,1075.6 361.1,1076.3 361.9,1076.8 363,1077.2 364.3,1077.4 365.7,1077.5 367.1,1077.4 368.4,1077.2 369.5,1076.8 370.3,1076.3 370.9,1075.6 371,1075 370.9,1074.4 370.3,1073.7 369.5,1073.2 368.4,1072.8 367.1,1072.6 365.7,1072.5 364.3,1072.6 363,1072.8 361.9,1073.2 361.1,1073.7 360.5,1074.4 360.4,1075" fill="none" stroke="#000" stroke-width="1.41"/>
<polygon points="648.4,945.1 655.3,941.1 659.4,940.4 664.8,946.8 666.1,953.9 659.2,958 655.1,958.7 649.7,952.2" fill="#fff" stroke="#000" stroke-width="1.48"/>
<polyline points="659.2,958 666.1,953.9" fill="none" stroke="#000" stroke-width="1.48"/>
<polyline points="657.9,950.9 664.8,946.8" fill="none" stroke="#000" stroke-width="1.48"/>
<polyline points="652.6,944.5 659.4,940.4" fill="none" stroke="#000" stroke-width="1.48"/>
<polyline points="657.9,962.8 659.8,961.7 660.8,960.7 661.3,959 661.3,956.8 660.8,954.3 659.8,951.6 658.4,948.9 656.7,946.3 654.8,944.1 652.8,942.5 650.9,941.4 649.2,941.1 647.8,941.4 645.9,942.5" fill="#fff" stroke="#000" stroke-width="1.85"/>
<polygon points="657.9,962.8 658.9,961.8 659.4,960.1 659.4,958 658.9,955.4 657.9,952.7 656.5,950 654.8,947.4 652.9,945.3 650.9,943.6 649,942.5 647.3,942.2 645.9,942.5 644.9,943.6 644.4,945.3 644.4,947.4 645,950 645.9,952.7 647.4,955.4 649.1,957.9 651,960.1 652.9,961.8 654.8,962.8 656.6,963.2 657.9,962.8" fill="#fff" stroke="#000" stroke-width="1.85"/>
<polyline points="640.9,965.4 654.6,957.3 655.1,956.7 655.3,955.7 655.2,954.4 654.7,952.9 654,951.5 653,950.1 652,949 650.9,948.3 650,948 649.2,948.1 635.5,956.3" fill="#fff" stroke="#000" stroke-width="1.48"/>
<polyline points="635.5,956.3 633.1,961.3 632.8,961.6 632.8,962.2 633,962.9 633.3,963.7 633.8,964.4 634.4,964.9 634.9,965.2 635.3,965.1 640.9,965.4" fill="#fff" stroke="#000" stroke-width="1.48"/>
<polyline points="635.5,956.3 635,956.9 634.8,957.9 634.9,959.2 635.4,960.6 636.1,962.1 637,963.4 638.1,964.5 639.1,965.3 640.1,965.6 640.9,965.4" fill="none" stroke="#000" stroke-width="1.26"/>
<polyline points="640.9,965.4 641.4,964.8 641.5,963.8 641.4,962.5 640.9,961.1 640.2,959.6 639.3,958.3 638.2,957.2 637.2,956.5 636.2,956.1 635.5,956.3" fill="none" stroke="#000" stroke-width="1.26"/>
<polygon points="635.3,965.1 635.5,964.9 635.6,964.6 635.6,964.2 635.5,963.7 635.3,963.2 635.1,962.7 634.7,962.2 634.4,961.8 634,961.5 633.6,961.3 633.3,961.2 633.1,961.3 632.9,961.5 632.8,961.8 632.8,962.2 632.9,962.7 633.1,963.2 633.3,963.7 633.7,964.2 634,964.6 634.4,964.9 634.8,965.1 635.1,965.2 635.3,965.1" fill="#fff" stroke="#000" stroke-width="1.19"/>
<polygon points="702.8,978.3 709.7,974.3 713.8,973.6 719.2,980 720.5,987.1 713.6,991.2 709.5,991.9 704.1,985.4" fill="#fff" stroke="#000" stroke-width="1.48"/>
<polyline points="713.6,991.2 720.5,987.1" fill="none" stroke="#000" stroke-width="1.48"/>
<polyline points="712.3,984.1 719.2,980" fill="none" stroke="#000" stroke-width="1.48"/>
<polyline points="707,977.7 713.8,973.6" fill="none" stroke="#000" stroke-width="1.48"/>
<polyline points="712.3,996 714.2,994.9 715.2,993.9 715.7,992.2 715.7,990 715.2,987.5 714.2,984.8 712.8,982.1 711.1,979.5 709.2,977.3 707.2,975.7 705.3,974.6 703.6,974.3 702.2,974.6 700.3,975.7" fill="#fff" stroke="#000" stroke-width="1.85"/>
<polygon points="712.3,996 713.3,995 713.8,993.3 713.8,991.2 713.3,988.6 712.3,985.9 710.9,983.2 709.2,980.6 707.3,978.5 705.3,976.8 703.4,975.7 701.7,975.4 700.3,975.7 699.3,976.8 698.8,978.5 698.8,980.6 699.4,983.2 700.3,985.9 701.8,988.6 703.5,991.1 705.4,993.3 707.3,995 709.2,996 711,996.4 712.3,996" fill="#fff" stroke="#000" stroke-width="1.85"/>
<polyline points="695.3,998.6 709,990.5 709.5,989.9 709.7,988.9 709.6,987.6 709.1,986.1 708.4,984.7 707.4,983.3 706.4,982.2 705.3,981.5 704.4,981.2 703.6,981.3 689.9,989.5" fill="#fff" stroke="#000" stroke-width="1.48"/>
<polyline points="689.9,989.5 687.5,994.5 687.2,994.8 687.2,995.4 687.4,996.1 687.7,996.9 688.2,997.6 688.8,998.1 689.3,998.4 689.7,998.3 695.3,998.6" fill="#fff" stroke="#000" stroke-width="1.48"/>
<polyline points="689.9,989.5 689.4,990.1 689.2,991.1 689.3,992.4 689.8,993.8 690.5,995.3 691.4,996.6 692.5,997.7 693.5,998.5 694.5,998.8 695.3,998.6" fill="none" stroke="#000" stroke-width="1.26"/>
<polyline points="695.3,998.6 695.8,998 695.9,997 695.8,995.7 695.3,994.3 694.6,992.8 693.7,991.5 692.6,990.4 691.6,989.7 690.6,989.3 689.9,989.5" fill="none" stroke="#000" stroke-width="1.26"/>
<polygon points="689.7,998.3 689.9,998.1 690,997.8 690,997.4 689.9,996.9 689.7,996.4 689.5,995.9 689.1,995.4 688.8,995 688.4,994.7 688,994.5 687.7,994.4 687.5,994.5 687.3,994.7 687.2,995 687.2,995.4 687.3,995.9 687.5,996.4 687.7,996.9 688.1,997.4 688.4,997.8 688.8,998.1 689.2,998.3 689.5,998.4 689.7,998.3" fill="#fff" stroke="#000" stroke-width="1.19"/>
<!-- rod5 -->
<polygon points="555.7,1237.1 733.4,1242.4 735.7,1242.4 738.2,1242.3 740.7,1242 743.1,1241.6 745.5,1241 747.8,1240.3 833.2,1211.5 834.3,1211.2 835,1211.1 835.6,1211.1 836.2,1211.2 836.9,1211.4 837.9,1211.9 945.4,1271.6 953.6,1257 845.6,1196.9 843.1,1195.7 840.2,1194.8 837.2,1194.3 834.1,1194.3 831.1,1194.7 828.4,1195.4 742.6,1224.3 741.1,1224.8 739.6,1225.1 738.2,1225.4 736.7,1225.5 735.3,1225.6 733.6,1225.6 556.3,1220.3" fill="#fff" stroke="#fff" stroke-width="0.11"/>
<polyline points="555.7,1237.1 733.4,1242.4 735.7,1242.4 738.2,1242.3 740.7,1242 743.1,1241.6 745.5,1241 747.8,1240.3 833.2,1211.5 834.3,1211.2 835,1211.1 835.6,1211.1 836.2,1211.2 836.9,1211.4 837.9,1211.9 945.4,1271.6" fill="none" stroke="#000" stroke-width="1.54"/>
<polyline points="556.3,1220.3 733.6,1225.6 735.3,1225.6 736.7,1225.5 738.2,1225.4 739.6,1225.1 741.1,1224.8 742.6,1224.3 828.4,1195.4 831.1,1194.7 834.1,1194.3 837.2,1194.3 840.2,1194.8 843.1,1195.7 845.6,1196.9 953.6,1257" fill="none" stroke="#000" stroke-width="1.54"/>
<path d="M556 1220.3 Q553 1215 547 1214.6 L507 1214.3 Q500.5 1214.5 499.3 1219.5 L498.5 1233 Q498.3 1236.8 503 1237.2 L537 1240.8 Q549 1240.5 559.5 1237" fill="#fff" stroke="#000" stroke-width="1.54"/>
<path d="M499 1229.5 Q520 1234.5 541 1234.2 Q552 1233.2 557.5 1231.5" fill="none" stroke="#000" stroke-width="1.37"/>
<ellipse cx="520.4" cy="1223.3" rx="6.7" ry="4" fill="none" stroke="#000" stroke-width="1.48"/>
<path d="M553.5 1219 Q551.5 1223 553 1227.5 L556.3 1226.8 L554.5 1230 L558.5 1231" fill="none" stroke="#000" stroke-width="1.37"/>
<polyline points="590.6,1221.4 589.8,1221.8 589.1,1223 588.5,1224.8 588.1,1227.1 587.9,1229.7 588,1232.3 588.2,1234.7 588.7,1236.6 589.3,1237.8 590,1238.2" fill="none" stroke="#000" stroke-width="1.37"/>
<polyline points="647.8,1223.1 647,1223.5 646.3,1224.7 645.7,1226.5 645.3,1228.8 645.1,1231.4 645.2,1234 645.4,1236.4 645.9,1238.3 646.5,1239.5 647.2,1239.9" fill="none" stroke="#000" stroke-width="1.37"/>
<polyline points="650.3,1223.2 649.5,1223.6 648.8,1224.8 648.2,1226.6 647.8,1228.9 647.6,1231.5 647.7,1234.1 647.9,1236.5 648.4,1238.4 649,1239.6 649.7,1240" fill="none" stroke="#000" stroke-width="1.37"/>
<polyline points="737.1,1225.7 736.3,1226.1 735.5,1227.3 734.9,1229.1 734.5,1231.4 734.3,1234 734.3,1236.6 734.6,1239 735.1,1240.8 735.8,1242.1 736.5,1242.5" fill="none" stroke="#000" stroke-width="1.37"/>
<polyline points="740.8,1225 740.2,1225.7 739.9,1227 740,1229 740.4,1231.3 741.1,1233.8 742.1,1236.2 743.1,1238.3 744.3,1239.9 745.3,1240.8 746.2,1241" fill="none" stroke="#000" stroke-width="1.37"/>
<polyline points="829.8,1194.8 829.1,1195.5 828.7,1196.9 828.7,1198.9 829,1201.2 829.7,1203.7 830.7,1206.2 831.8,1208.2 833,1209.8 834.2,1210.7 835.2,1210.8" fill="none" stroke="#000" stroke-width="1.37"/>
<polyline points="844.6,1196.4 843.6,1196.3 842.3,1196.9 840.8,1198.2 839.3,1200.1 837.9,1202.3 836.8,1204.6 836,1206.9 835.7,1208.8 835.8,1210.2 836.4,1211" fill="none" stroke="#000" stroke-width="1.37"/>
<polyline points="544.5,1228.4 739.5,1234.2" fill="none" stroke="#000" stroke-width="1.37" stroke-dasharray="10 7"/>
<polyline points="745,1232.4 834,1202.4" fill="none" stroke="#000" stroke-width="1.37" stroke-dasharray="10 7"/>
<polyline points="840,1203.5 949,1264" fill="none" stroke="#000" stroke-width="1.37" stroke-dasharray="10 7"/>
<polyline points="951.4,1255.7 950.4,1255.7 949.1,1256.3 947.6,1257.6 946.1,1259.5 944.7,1261.7 943.6,1264 942.8,1266.2 942.5,1268.2 942.6,1269.6 943.2,1270.4" fill="none" stroke="#000" stroke-width="1.37"/>
<polyline points="953.6,1257 952.6,1256.9 951.3,1257.5 949.8,1258.8 948.3,1260.7 946.9,1262.9 945.8,1265.2 945,1267.5 944.7,1269.4 944.8,1270.8 945.4,1271.6" fill="none" stroke="#000" stroke-width="1.37"/>
<polygon points="946.1,1270.4 978.4,1288.4 978.4,1288.4 977.9,1287.7 977.8,1286.5 978.1,1284.9 978.8,1283 979.7,1281.1 980.9,1279.3 982.1,1277.7 983.3,1276.6 984.4,1276.1 985.2,1276.2 952.9,1258.2 952.9,1258.2 952.1,1258.1 951,1258.7 949.8,1259.7 948.5,1261.3 947.4,1263.1 946.4,1265.1 945.8,1266.9 945.5,1268.6 945.6,1269.8 946.1,1270.4" fill="#000" stroke="#000" stroke-width="1.14"/>
<polygon points="978.4,1288.4 979.1,1288.5 980,1288.2 981,1287.4 982,1286.4 983,1285 984,1283.5 984.8,1281.8 985.4,1280.2 985.8,1278.8 985.9,1277.6 985.7,1276.7 985.2,1276.2 984.6,1276.1 983.7,1276.4 982.7,1277.1 981.7,1278.2 980.7,1279.5 979.7,1281.1 978.9,1282.7 978.3,1284.3 977.9,1285.8 977.8,1287 978,1287.9 978.4,1288.4" fill="#fff" stroke="#000" stroke-width="1.48"/>
<!-- right_end -->
<polygon points="1016.4,1316.3 1019.3,1303.5 1028.6,1294.3 1032.4,1296.4 1038.8,1300 1035.8,1312.7 1026.6,1322" fill="#fff" stroke="#000" stroke-width="1.94"/>
<polygon points="1026.6,1322 1035.8,1312.7 1038.8,1300 1032.4,1296.4 1023.2,1305.7 1020.2,1318.4" fill="#fff" stroke="#000" stroke-width="1.82"/>
<polyline points="1032.4,1296.4 1028.6,1294.3" fill="none" stroke="#000" stroke-width="1.6"/>
<polyline points="1023.2,1305.7 1019.3,1303.5" fill="none" stroke="#000" stroke-width="1.6"/>
<polyline points="1020.2,1318.4 1016.4,1316.3" fill="none" stroke="#000" stroke-width="1.6"/>
<polygon points="1024.3,1318.6 1025.7,1318.9 1027.3,1318.6 1029.1,1317.7 1031,1316.2 1032.7,1314.2 1034.2,1311.8 1035.4,1309.3 1036.2,1306.8 1036.5,1304.4 1036.4,1302.4 1035.8,1300.8 1034.7,1299.8 1033.3,1299.5 1031.7,1299.8 1029.9,1300.7 1028,1302.2 1026.3,1304.2 1024.8,1306.6 1023.6,1309.1 1022.8,1311.6 1022.5,1314 1022.6,1316 1023.2,1317.6 1024.3,1318.6" fill="none" stroke="#000" stroke-width="1.6"/>
<polygon points="1026,1315.5 1026.9,1315.8 1028,1315.6 1029.2,1314.9 1030.5,1313.9 1031.7,1312.5 1032.7,1311 1033.5,1309.3 1034,1307.6 1034.2,1306 1034.1,1304.6 1033.7,1303.5 1033,1302.9 1032.1,1302.6 1031,1302.8 1029.8,1303.5 1028.5,1304.5 1027.3,1305.9 1026.3,1307.4 1025.5,1309.1 1025,1310.8 1024.8,1312.4 1024.9,1313.8 1025.3,1314.9 1026,1315.5" fill="none" stroke="#000" stroke-width="1.94"/>
<polygon points="1109.6,1374.1 1109.6,1382.1 1111.8,1384.1 1111.8,1399.6 1115.1,1402.6 1122.1,1402.6 1125.1,1399.6 1125.1,1384.1 1127.6,1382.1 1127.6,1374.1" fill="#fff" stroke="#000" stroke-width="1.54"/>
<path d="M1109.6 1377.6 q9 4 18 0 M1109.6 1381.6 q9 4.5 18 0 M1111.8 1385.1 q7 3.5 13.3 0" fill="none" stroke="#000" stroke-width="1.31"/>
<polygon points="1075.2,1351.1 1119.4,1375.6 1119.4,1375.6 1120.4,1375.8 1121.7,1375.4 1123.2,1374.4 1124.7,1373 1126.2,1371.1 1127.6,1368.9 1128.7,1366.7 1129.5,1364.4 1129.9,1362.3 1130,1360.6 1129.6,1359.3 1128.9,1358.5 1084.8,1333.9 1084.8,1333.9 1083.5,1333.8 1081.8,1334.5 1080,1335.9 1078.2,1338 1076.6,1340.6 1075.3,1343.3 1074.4,1346 1074.1,1348.3 1074.4,1350.1 1075.2,1351.1" fill="#fff" stroke="#000" stroke-width="1.54"/>
<polyline points="1127.6,1357.7 1126.3,1357.6 1124.7,1358.3 1122.9,1359.7 1121,1361.8 1119.4,1364.4 1118.1,1367.1 1117.3,1369.8 1117,1372.1 1117.2,1373.9 1118.1,1374.9" fill="none" stroke="#000" stroke-width="1.37"/>
<polyline points="1076.6,1340.6 1083,1344.1 1081.8,1353.5 1076.1,1351.3" fill="none" stroke="#000" stroke-width="1.37"/>
<!-- rod6 -->
<polygon points="326,1300.7 330.9,1355.4 331.2,1357.6 331.7,1359.9 332.4,1362.2 333.4,1364.4 334.5,1366.4 335.7,1368.3 357.1,1397.8 358.6,1399.7 360.5,1401.5 362.7,1403.1 365,1404.3 367.5,1405.2 369.8,1405.8 391,1409.6 392.1,1409.8 393.1,1410.1 394.1,1410.5 395,1410.9 395.9,1411.4 396.8,1412 491.7,1480 501.3,1466.6 406.3,1398.4 404.5,1397.2 402.6,1396.1 400.5,1395.2 398.4,1394.4 396.2,1393.7 394.2,1393.3 373.2,1389.5 372.4,1389.3 371.9,1389.2 371.5,1389 371.2,1388.7 370.8,1388.4 370.2,1387.7 349.4,1358.8 348.8,1357.9 348.3,1357.1 348,1356.4 347.7,1355.6 347.6,1354.7 347.4,1353.6 342.6,1299.3" fill="#fff" stroke="#fff" stroke-width="0.11"/>
<polyline points="326,1300.7 330.9,1355.4 331.2,1357.6 331.7,1359.9 332.4,1362.2 333.4,1364.4 334.5,1366.4 335.7,1368.3 357.1,1397.8 358.6,1399.7 360.5,1401.5 362.7,1403.1 365,1404.3 367.5,1405.2 369.8,1405.8 391,1409.6 392.1,1409.8 393.1,1410.1 394.1,1410.5 395,1410.9 395.9,1411.4 396.8,1412 491.7,1480" fill="none" stroke="#000" stroke-width="1.54"/>
<polyline points="342.6,1299.3 347.4,1353.6 347.6,1354.7 347.7,1355.6 348,1356.4 348.3,1357.1 348.8,1357.9 349.4,1358.8 370.2,1387.7 370.8,1388.4 371.2,1388.7 371.5,1389 371.9,1389.2 372.4,1389.3 373.2,1389.5 394.2,1393.3 396.2,1393.7 398.4,1394.4 400.5,1395.2 402.6,1396.1 404.5,1397.2 406.3,1398.4 501.3,1466.6" fill="none" stroke="#000" stroke-width="1.54"/>
<path d="M326.7 1304 Q318.5 1299 316.8 1292 L316.4 1277.5 Q316.5 1275.8 318.5 1275.5 Q332.5 1272.8 346 1275 Q347.9 1275.3 348 1277 L349 1293 Q348.5 1300.5 341.9 1303 Z" fill="#fff" stroke="#000" stroke-width="1.54"/>
<path d="M317.8 1293 Q320.5 1305.5 327.6 1313" fill="none" stroke="#000" stroke-width="1.37"/>
<path d="M348 1296 Q347 1303 344.3 1308.5" fill="none" stroke="#000" stroke-width="1.37"/>
<ellipse cx="332.7" cy="1285.3" rx="6.4" ry="3" fill="none" stroke="#000" stroke-width="1.48"/>
<ellipse cx="332.7" cy="1291.2" rx="6.4" ry="3" fill="none" stroke="#000" stroke-width="1.48"/>
<polyline points="326.7,1303.6 341.9,1303" fill="none" stroke="#000" stroke-width="1.48"/>
<polyline points="334.8,1306 337.3,1353" fill="none" stroke="#000" stroke-width="1.31"/>
<polyline points="347.5,1354.8 347,1353.7 345.7,1352.7 343.8,1352.1 341.4,1351.7 338.9,1351.8 336.3,1352.2 334.1,1352.9 332.3,1353.9 331.2,1355.1 330.9,1356.2" fill="none" stroke="#000" stroke-width="1.37"/>
<polyline points="349.2,1358.4 348.3,1357.8 346.8,1357.8 344.9,1358.3 342.7,1359.2 340.6,1360.6 338.6,1362.2 337,1364 335.9,1365.7 335.5,1367.1 335.8,1368.2" fill="none" stroke="#000" stroke-width="1.37"/>
<polyline points="370.7,1388.3 369.8,1387.7 368.3,1387.7 366.4,1388.2 364.2,1389.1 362.1,1390.5 360.1,1392.1 358.5,1393.9 357.4,1395.6 357,1397 357.3,1398.1" fill="none" stroke="#000" stroke-width="1.37"/>
<polyline points="371,1389.2 369.9,1389.4 368.8,1390.4 367.7,1392.1 366.8,1394.3 366.2,1396.8 365.9,1399.4 366,1401.7 366.4,1403.7 367.1,1405 368,1405.6" fill="none" stroke="#000" stroke-width="1.37"/>
<polyline points="396,1393.6 394.9,1393.8 393.8,1394.8 392.7,1396.5 391.8,1398.7 391.2,1401.2 390.9,1403.8 391,1406.1 391.4,1408.1 392.1,1409.4 393,1410" fill="none" stroke="#000" stroke-width="1.37"/>
<polyline points="405.3,1397.8 404.3,1397.5 402.8,1397.9 401.2,1399 399.4,1400.6 397.8,1402.6 396.4,1404.7 395.5,1406.9 395,1408.8 395.1,1410.3 395.7,1411.2" fill="none" stroke="#000" stroke-width="1.37"/>
<polyline points="335.5,1312 339.3,1355" fill="none" stroke="#000" stroke-width="1.31" stroke-dasharray="14 4"/>
<polyline points="344,1366 364,1393.5" fill="none" stroke="#000" stroke-width="1.31" stroke-dasharray="12 4"/>
<polyline points="371,1397.6 394,1401.7" fill="none" stroke="#000" stroke-width="1.31" stroke-dasharray="10 4"/>
<polyline points="403,1406.3 494,1471.5" fill="none" stroke="#000" stroke-width="1.31" stroke-dasharray="24 6"/>
<polyline points="499.3,1465.1 498.2,1464.8 496.8,1465.2 495.1,1466.3 493.4,1467.9 491.8,1469.9 490.4,1472.1 489.4,1474.2 489,1476.2 489,1477.7 489.6,1478.6" fill="none" stroke="#000" stroke-width="1.37"/>
<polyline points="501.3,1466.6 500.3,1466.3 498.8,1466.7 497.2,1467.8 495.4,1469.4 493.8,1471.4 492.4,1473.5 491.5,1475.7 491,1477.6 491.1,1479.1 491.7,1480" fill="none" stroke="#000" stroke-width="1.37"/>
<polygon points="492.5,1478.9 521.3,1499.6 529.4,1488.4 500.5,1467.7 500.5,1467.7 499.6,1467.5 498.4,1467.8 497,1468.7 495.6,1470 494.3,1471.7 493.1,1473.5 492.3,1475.3 491.9,1476.9 492,1478.1 492.5,1478.9" fill="#000" stroke="#000" stroke-width="1.14"/>
<polygon points="523.1,1509.7 527.5,1497.4 537.8,1489.3 541.4,1491.9 547.3,1496.1 542.9,1508.4 532.6,1516.5" fill="#fff" stroke="#000" stroke-width="1.94"/>
<polygon points="532.6,1516.5 542.9,1508.4 547.3,1496.1 541.4,1491.9 531.1,1500 526.7,1512.3" fill="#fff" stroke="#000" stroke-width="1.82"/>
<polyline points="541.4,1491.9 537.8,1489.3" fill="none" stroke="#000" stroke-width="1.6"/>
<polyline points="531.1,1500 527.5,1497.4" fill="none" stroke="#000" stroke-width="1.6"/>
<polyline points="526.7,1512.3 523.1,1509.7" fill="none" stroke="#000" stroke-width="1.6"/>
<polygon points="530.7,1512.9 532.1,1513.4 533.8,1513.3 535.7,1512.6 537.6,1511.3 539.6,1509.5 541.4,1507.3 542.8,1505 543.9,1502.5 544.5,1500.2 544.6,1498.2 544.2,1496.6 543.3,1495.5 541.9,1495 540.2,1495.1 538.3,1495.8 536.4,1497.1 534.4,1498.9 532.6,1501.1 531.2,1503.4 530.1,1505.9 529.5,1508.2 529.4,1510.2 529.8,1511.8 530.7,1512.9" fill="none" stroke="#000" stroke-width="1.6"/>
<polygon points="532.8,1510.1 533.7,1510.4 534.8,1510.4 536.1,1509.9 537.4,1509 538.8,1507.8 539.9,1506.3 540.9,1504.7 541.7,1503.1 542.1,1501.5 542.1,1500.1 541.9,1499 541.2,1498.3 540.3,1498 539.2,1498 537.9,1498.5 536.6,1499.4 535.2,1500.6 534.1,1502.1 533.1,1503.7 532.3,1505.3 531.9,1506.9 531.9,1508.3 532.1,1509.4 532.8,1510.1" fill="none" stroke="#000" stroke-width="1.94"/>
<polygon points="569,1546.5 567.6,1554.5 569.5,1556.5 566.8,1572 569.6,1575 576.6,1575 580.1,1572 582.8,1556.5 585.6,1554.5 587,1546.5" fill="#fff" stroke="#000" stroke-width="1.54"/>
<path d="M569 1550 q9 4 18 0 M569 1554 q9 4.5 18 0 M571.2 1557.5 q7 3.5 13.3 0" fill="none" stroke="#000" stroke-width="1.31"/>
<polygon points="540,1518.2 580.9,1547.9 580.9,1547.9 581.9,1548.3 583.2,1548 584.8,1547.3 586.5,1546 588.2,1544.3 589.8,1542.3 591.2,1540.2 592.3,1538.1 592.9,1536.1 593.2,1534.3 593,1533 592.4,1532.1 551.6,1502.4 551.6,1502.4 550.3,1502.1 548.6,1502.5 546.6,1503.8 544.6,1505.7 542.6,1508 541,1510.6 539.8,1513.1 539.3,1515.4 539.3,1517.1 540,1518.2" fill="#fff" stroke="#000" stroke-width="1.54"/>
<polyline points="591.2,1531.2 589.9,1530.9 588.2,1531.4 586.2,1532.6 584.2,1534.5 582.2,1536.8 580.6,1539.4 579.5,1541.9 578.9,1544.2 578.9,1546 579.6,1547.1" fill="none" stroke="#000" stroke-width="1.37"/>
<polyline points="542.6,1508 548.5,1512.3 547.3,1521.7 540.8,1518.5" fill="none" stroke="#000" stroke-width="1.37"/>
<!-- lower_small_parts -->
<polygon points="412.4,1274.4 414.9,1274.8 417.2,1275.3 419.5,1276 421.6,1276.8 423.6,1277.7 425.4,1278.8 427,1280 428.4,1281.2 429.5,1282.5 430.4,1283.9 431.1,1285.3 431.5,1286.8 431.6,1288.3 431.5,1289.8 431.1,1291.3 430.4,1292.7 429.5,1294.1 424.9,1296.8 418.6,1298.1 418.6,1301.9 417.2,1301.3 414.9,1301.8 412.4,1302.2 409.9,1302.4 407.4,1302.5 404.9,1302.4 402.4,1302.2 399.9,1301.8 397.6,1301.3 395.3,1300.6 393.2,1299.8 391.2,1298.9 389.4,1297.8 387.8,1296.6 386.4,1295.4 385.3,1294.1 384.4,1292.7 383.7,1291.3 383.3,1289.8 383.2,1288.3 390.1,1286 393.9,1280.8 394.6,1275.8 396,1275.8 398.3,1275.1 400.7,1274.7 403.2,1274.3 405.7,1274.1 408.2,1274.1 410.8,1274.2" fill="#fff" stroke="#000" stroke-width="1.54"/>
<polyline points="417.2,1303.9 414.9,1304.4 412.4,1304.8 409.9,1305 407.4,1305.1 404.9,1305 402.4,1304.8 399.9,1304.4 397.6,1303.9 395.3,1303.2 393.2,1302.4 391.2,1301.5 389.4,1300.4 387.8,1299.2 386.4,1298 385.3,1296.7 384.4,1295.3 383.7,1293.9 383.3,1292.4" fill="none" stroke="#000" stroke-width="1.42"/>
<polyline points="418.6,1301.9 418.6,1304.3" fill="none" stroke="#000" stroke-width="1.37"/>
<polyline points="424.9,1296.8 424.9,1299.3 430.4,1297.8 431.2,1292.3" fill="none" stroke="#000" stroke-width="1.37"/>
<polyline points="394.6,1285.1 394.6,1291.1 395,1292.7 396.3,1294.2 398.3,1295.6 400.9,1296.6 403.9,1297.2 407.2,1297.4 410.5,1297.2 413.5,1296.6 416.1,1295.6 418.1,1294.2 419.4,1292.7 419.8,1291.1 419.8,1285.1" fill="#fff" stroke="#000" stroke-width="1.48"/>
<polygon points="394.6,1285.1 395,1286.7 396.3,1288.2 398.3,1289.6 400.9,1290.6 403.9,1291.2 407.2,1291.4 410.5,1291.2 413.5,1290.6 416.1,1289.6 418.1,1288.2 419.4,1286.7 419.8,1285.1 419.4,1283.5 418.1,1281.9 416.1,1280.6 413.5,1279.6 410.5,1279 407.2,1278.8 403.9,1279 400.9,1279.6 398.3,1280.6 396.3,1281.9 395,1283.5 394.6,1285.1" fill="#fff" stroke="#000" stroke-width="1.48"/>
<polyline points="397.3,1281.3 397.3,1285.8 397.6,1287.1 398.6,1288.3 400.2,1289.3 402.2,1290.1 404.6,1290.6 407.2,1290.8 409.8,1290.6 412.1,1290.1 414.2,1289.3 415.8,1288.3 416.8,1287.1 417.1,1285.8 417.1,1281.3" fill="#fff" stroke="#000" stroke-width="1.48"/>
<polygon points="397.3,1281.3 397.6,1282.6 398.6,1283.8 400.2,1284.8 402.2,1285.6 404.6,1286.1 407.2,1286.2 409.8,1286.1 412.1,1285.6 414.2,1284.8 415.8,1283.8 416.8,1282.6 417.1,1281.3 416.8,1280 415.8,1278.8 414.2,1277.8 412.1,1277 409.8,1276.5 407.2,1276.3 404.6,1276.5 402.2,1277 400.2,1277.8 398.6,1278.8 397.6,1280 397.3,1281.3" fill="#fff" stroke="#000" stroke-width="1.48"/>
<polygon points="400.9,1281.3 401.1,1282.1 401.7,1282.9 402.7,1283.5 404.1,1284 405.6,1284.3 407.2,1284.5 408.8,1284.3 410.3,1284 411.7,1283.5 412.7,1282.9 413.3,1282.1 413.5,1281.3 413.3,1280.5 412.7,1279.7 411.7,1279.1 410.3,1278.6 408.8,1278.3 407.2,1278.1 405.6,1278.3 404.1,1278.6 402.7,1279.1 401.7,1279.7 401.1,1280.5 400.9,1281.3" fill="none" stroke="#000" stroke-width="1.48"/>
<polyline points="447.5,1293.8 447.5,1296.4 448.2,1299.5 450.4,1302.3 453.9,1304.8 458.5,1306.7 463.8,1307.9 469.5,1308.3 475.2,1307.9 480.5,1306.7 485.1,1304.8 488.6,1302.3 490.8,1299.5 491.5,1296.4 491.5,1293.8" fill="#fff" stroke="#000" stroke-width="1.54"/>
<polygon points="447.5,1293.8 448.2,1296.9 450.4,1299.7 453.9,1302.2 458.5,1304.1 463.8,1305.3 469.5,1305.7 475.2,1305.3 480.5,1304.1 485.1,1302.2 488.6,1299.7 490.8,1296.9 491.5,1293.8 490.8,1290.7 488.6,1287.9 485.1,1285.4 480.5,1283.5 475.2,1282.3 469.5,1281.9 463.8,1282.3 458.5,1283.5 453.9,1285.4 450.4,1287.9 448.2,1290.7 447.5,1293.8" fill="#fff" stroke="#000" stroke-width="1.54"/>
<polyline points="458.9,1288.4 458.9,1293.6 459.3,1295 460.3,1296.2 462,1297.3 464.2,1298.2 466.8,1298.7 469.5,1298.9 472.2,1298.7 474.8,1298.2 477,1297.3 478.7,1296.2 479.7,1295 480.1,1293.6 480.1,1288.4" fill="#fff" stroke="#000" stroke-width="1.48"/>
<polygon points="458.9,1288.4 459.3,1289.8 460.3,1291 462,1292.1 464.2,1293 466.8,1293.5 469.5,1293.7 472.2,1293.5 474.8,1293 477,1292.1 478.7,1291 479.7,1289.8 480.1,1288.4 479.7,1287 478.7,1285.7 477,1284.7 474.8,1283.8 472.2,1283.3 469.5,1283.1 466.8,1283.3 464.2,1283.8 462,1284.7 460.3,1285.7 459.3,1287 458.9,1288.4" fill="#fff" stroke="#000" stroke-width="1.48"/>
<polygon points="462.5,1288.4 462.7,1289.3 463.4,1290.1 464.6,1290.9 466,1291.4 467.7,1291.8 469.5,1291.9 471.3,1291.8 473,1291.4 474.4,1290.9 475.6,1290.1 476.3,1289.3 476.5,1288.4 476.3,1287.5 475.6,1286.6 474.4,1285.9 473,1285.4 471.3,1285 469.5,1284.9 467.7,1285 466,1285.4 464.6,1285.9 463.4,1286.6 462.7,1287.5 462.5,1288.4" fill="none" stroke="#000" stroke-width="1.48"/>
<polyline points="456.2,1294.2 456.7,1295.9 458,1297.5 460.1,1298.9 462.9,1300 466.1,1300.6 469.5,1300.9 472.9,1300.6 476.1,1300 478.9,1298.9 481,1297.5 482.3,1295.9 482.8,1294.2" fill="none" stroke="#000" stroke-width="1.37"/>
<polygon points="459,1352.5 462,1350.3 477,1350.3 480.3,1352.5 480.3,1360.5 475.5,1364.3 463.5,1364.3 459,1360.5" fill="#fff" stroke="#000" stroke-width="1.54"/>
<path d="M459 1356.5 Q469.5 1362.5 480.3 1356.5" fill="none" stroke="#000" stroke-width="1.31"/>
<path d="M461.9 1326.5 L461.9 1352.5 Q469.4 1356.8 476.9 1352.5 L476.9 1326.5 Q469.4 1321 461.9 1326.5Z" fill="#000" stroke="#000" stroke-width="1.25"/>
<ellipse cx="469.4" cy="1326.3" rx="6.4" ry="3.1" fill="#fff" stroke="#000" stroke-width="1.14"/>
<polygon points="511,1295.7 515.6,1291.7 525,1291.7 529.6,1295.7 529.6,1302.7 525,1306.7 515.6,1306.7 511,1302.7" fill="#fff" stroke="#000" stroke-width="1.48"/>
<polyline points="511,1295.7 511,1302.7" fill="none" stroke="#000" stroke-width="1.33"/>
<polyline points="515.6,1299.7 515.6,1306.7" fill="none" stroke="#000" stroke-width="1.33"/>
<polyline points="524.9,1299.7 524.9,1306.7" fill="none" stroke="#000" stroke-width="1.33"/>
<polyline points="529.6,1295.7 529.6,1302.7" fill="none" stroke="#000" stroke-width="1.33"/>
<polyline points="508.4,1292.3 508.4,1294.9 508.8,1296.4 510,1297.9 511.9,1299.1 514.3,1300.1 517.2,1300.6 520.3,1300.8 523.4,1300.6 526.2,1300.1 528.7,1299.1 530.6,1297.9 531.8,1296.4 532.2,1294.9 532.2,1292.3" fill="#fff" stroke="#000" stroke-width="1.48"/>
<polygon points="508.4,1292.3 508.8,1293.8 510,1295.3 511.9,1296.5 514.3,1297.5 517.2,1298 520.3,1298.2 523.4,1298 526.2,1297.5 528.7,1296.5 530.6,1295.3 531.8,1293.8 532.2,1292.3 531.8,1290.8 530.6,1289.3 528.7,1288.1 526.2,1287.1 523.4,1286.6 520.3,1286.3 517.2,1286.6 514.3,1287.1 511.9,1288.1 510,1289.3 508.8,1290.8 508.4,1292.3" fill="#fff" stroke="#000" stroke-width="1.48"/>
<polygon points="515.8,1292.6 515.9,1293.2 516.4,1293.7 517.1,1294.2 518,1294.6 519.1,1294.8 520.3,1294.9 521.5,1294.8 522.6,1294.6 523.5,1294.2 524.2,1293.7 524.7,1293.2 524.8,1292.6 524.7,1292 524.2,1291.5 523.5,1291 522.6,1290.6 521.5,1290.4 520.3,1290.3 519.1,1290.4 518,1290.6 517.1,1291 516.4,1291.5 515.9,1292 515.8,1292.6" fill="none" stroke="#000" stroke-width="1.48"/>
<polygon points="323.8,1404.1 328.4,1400.1 337.8,1400.1 342.4,1404.1 342.4,1411.1 337.8,1415.1 328.4,1415.1 323.8,1411.1" fill="#fff" stroke="#000" stroke-width="1.48"/>
<polyline points="323.8,1404.1 323.8,1411.1" fill="none" stroke="#000" stroke-width="1.33"/>
<polyline points="328.5,1408.1 328.5,1415.1" fill="none" stroke="#000" stroke-width="1.33"/>
<polyline points="337.8,1408.1 337.8,1415.1" fill="none" stroke="#000" stroke-width="1.33"/>
<polyline points="342.4,1404.1 342.4,1411.1" fill="none" stroke="#000" stroke-width="1.33"/>
<polyline points="321.2,1400.7 321.2,1403.3 321.6,1404.8 322.8,1406.3 324.7,1407.5 327.2,1408.5 330,1409 333.1,1409.2 336.2,1409 339.1,1408.5 341.5,1407.5 343.4,1406.3 344.6,1404.8 345,1403.3 345,1400.7" fill="#fff" stroke="#000" stroke-width="1.48"/>
<polygon points="321.2,1400.7 321.6,1402.2 322.8,1403.7 324.7,1404.9 327.2,1405.9 330,1406.4 333.1,1406.7 336.2,1406.4 339.1,1405.9 341.5,1404.9 343.4,1403.7 344.6,1402.2 345,1400.7 344.6,1399.2 343.4,1397.7 341.5,1396.5 339.1,1395.5 336.2,1395 333.1,1394.8 330,1395 327.2,1395.5 324.7,1396.5 322.8,1397.7 321.6,1399.2 321.2,1400.7" fill="#fff" stroke="#000" stroke-width="1.48"/>
<polygon points="328.6,1401 328.7,1401.6 329.2,1402.1 329.9,1402.6 330.8,1403 331.9,1403.2 333.1,1403.3 334.3,1403.2 335.4,1403 336.3,1402.6 337,1402.1 337.5,1401.6 337.6,1401 337.5,1400.4 337,1399.9 336.3,1399.4 335.4,1399 334.3,1398.8 333.1,1398.7 331.9,1398.8 330.8,1399 329.9,1399.4 329.2,1399.9 328.7,1400.4 328.6,1401" fill="none" stroke="#000" stroke-width="1.48"/>
<polygon points="396.6,1353.9 402,1349.3 412.8,1349.3 418.2,1353.9 418.2,1362.1 412.8,1366.7 402,1366.7 396.6,1362.1" fill="#fff" stroke="#000" stroke-width="1.48"/>
<polyline points="396.6,1353.9 396.6,1362.1" fill="none" stroke="#000" stroke-width="1.33"/>
<polyline points="402,1358.6 402,1366.7" fill="none" stroke="#000" stroke-width="1.33"/>
<polyline points="412.8,1358.6 412.8,1366.7" fill="none" stroke="#000" stroke-width="1.33"/>
<polyline points="418.2,1353.9 418.2,1362.1" fill="none" stroke="#000" stroke-width="1.33"/>
<polyline points="393.6,1350 393.6,1353 394.1,1354.8 395.4,1356.5 397.6,1357.9 400.5,1359 403.8,1359.7 407.4,1359.9 411,1359.7 414.3,1359 417.2,1357.9 419.4,1356.5 420.7,1354.8 421.2,1353 421.2,1350" fill="#fff" stroke="#000" stroke-width="1.48"/>
<polygon points="393.6,1350 394.1,1351.8 395.4,1353.5 397.6,1354.9 400.5,1356 403.8,1356.7 407.4,1356.9 411,1356.7 414.3,1356 417.2,1354.9 419.4,1353.5 420.7,1351.8 421.2,1350 420.7,1348.2 419.4,1346.5 417.2,1345.1 414.3,1344 411,1343.3 407.4,1343.1 403.8,1343.3 400.5,1344 397.6,1345.1 395.4,1346.5 394.1,1348.2 393.6,1350" fill="#fff" stroke="#000" stroke-width="1.48"/>
<polygon points="402.2,1350.3 402.3,1351 402.9,1351.6 403.7,1352.2 404.8,1352.6 406,1352.8 407.4,1352.9 408.8,1352.8 410,1352.6 411.1,1352.2 411.9,1351.6 412.5,1351 412.6,1350.3 412.5,1349.6 411.9,1349 411.1,1348.4 410,1348 408.8,1347.8 407.4,1347.7 406,1347.8 404.8,1348 403.7,1348.4 402.9,1349 402.3,1349.6 402.2,1350.3" fill="none" stroke="#000" stroke-width="1.48"/>
<ellipse cx="425.8" cy="1383.8" rx="11.3" ry="6" fill="#fff" stroke="#000" stroke-width="1.48"/>
<path d="M421.4 1366.5 L421.4 1384 Q425.9 1386.6 430.4 1384 L430.4 1366.5 Q425.9 1361.5 421.4 1366.5Z" fill="#000" stroke="#000" stroke-width="1.14"/>
<polyline points="423.5,1369.3 427.5,1367.9" fill="none" stroke="#bbb" stroke-width="0.91"/>
<polyline points="423.5,1372.7 427.5,1371.3" fill="none" stroke="#bbb" stroke-width="0.91"/>
<polyline points="423.5,1376.1 427.5,1374.7" fill="none" stroke="#bbb" stroke-width="0.91"/>
<polyline points="423.5,1379.5 427.5,1378.1" fill="none" stroke="#bbb" stroke-width="0.91"/>
<polyline points="423.5,1382.9 427.5,1381.5" fill="none" stroke="#bbb" stroke-width="0.91"/>
<polyline points="482.5,1604.2 483.2,1607.1 484.4,1608.9 486.8,1610.3 490.2,1611 494.5,1611.2 499.2,1610.7 504.2,1609.7 509,1608.1 513.4,1606.1 517,1603.9 519.6,1601.5 521,1599.2 521.1,1597.1 520.3,1594.2" fill="#fff" stroke="#000" stroke-width="1.54"/>
<polygon points="482.5,1604.2 483.6,1606 486,1607.4 489.4,1608.1 493.7,1608.3 498.4,1607.8 503.4,1606.8 508.3,1605.2 512.6,1603.2 516.2,1601 518.8,1598.6 520.2,1596.3 520.3,1594.2 519.2,1592.4 516.8,1591 513.4,1590.3 509.1,1590.1 504.4,1590.6 499.4,1591.6 494.5,1593.2 490.2,1595.2 486.6,1597.4 484,1599.8 482.6,1602.1 482.5,1604.2" fill="#fff" stroke="#000" stroke-width="1.54"/>
<polygon points="493.3,1601.6 493.8,1602.2 494.8,1602.7 496.3,1603 498.1,1603 500.1,1602.8 502.2,1602.3 504.3,1601.7 506.2,1600.8 507.7,1599.9 508.9,1599 509.5,1598.1 509.6,1597.2 509.1,1596.5 508.1,1596.1 506.6,1595.8 504.8,1595.8 502.8,1596 500.7,1596.5 498.6,1597.1 496.7,1597.9 495.2,1598.9 494,1599.8 493.4,1600.7 493.3,1601.6" fill="none" stroke="#000" stroke-width="2.74"/>
<polygon points="527.6,1750 529.7,1743.8 542.6,1738.8 553.3,1740.1 556.3,1751.2 554.1,1757.5 541.3,1762.4 530.5,1761.1" fill="#fff" stroke="#000" stroke-width="1.54"/>
<polyline points="527.6,1750 530.5,1761.1" fill="none" stroke="#000" stroke-width="1.42"/>
<polyline points="538.3,1751.3 541.3,1762.4" fill="none" stroke="#000" stroke-width="1.42"/>
<polyline points="551.2,1746.4 554.1,1757.5" fill="none" stroke="#000" stroke-width="1.42"/>
<polyline points="523.6,1745.4 524.4,1748.5 525.4,1750 527.3,1751.1 530.2,1751.8 533.8,1751.9 537.8,1751.5 541.9,1750.6 546,1749.3 549.6,1747.7 552.6,1745.8 554.8,1743.8 556,1741.9 556.1,1740.1 555.2,1737" fill="#fff" stroke="#000" stroke-width="1.54"/>
<polygon points="523.6,1745.4 524.5,1746.9 526.5,1748 529.4,1748.7 532.9,1748.8 536.9,1748.4 541.1,1747.5 545.1,1746.2 548.8,1744.6 551.8,1742.7 554,1740.7 555.1,1738.8 555.2,1737 554.3,1735.5 552.3,1734.4 549.4,1733.7 545.9,1733.6 541.9,1734 537.7,1734.9 533.7,1736.2 530,1737.8 527,1739.7 524.8,1741.7 523.7,1743.6 523.6,1745.4" fill="#fff" stroke="#000" stroke-width="1.54"/>
<polygon points="532.5,1743.2 532.9,1743.8 533.7,1744.2 535,1744.4 536.5,1744.4 538.3,1744.2 540.1,1743.8 541.9,1743.2 543.5,1742.5 544.8,1741.8 545.8,1741 546.3,1740.2 546.4,1739.5 546,1739 545.2,1738.6 543.9,1738.4 542.4,1738.4 540.6,1738.6 538.8,1739 537,1739.6 535.4,1740.3 534.1,1741 533.1,1741.8 532.6,1742.6 532.5,1743.2" fill="none" stroke="#000" stroke-width="2.62"/>
<polygon points="500.3,1671.5 500.7,1670.1 501.6,1668.6 502.9,1667.1 504.7,1665.6 506.8,1664.2 509.3,1662.8 512.1,1661.6 515,1660.5 518.1,1659.6 521.2,1658.8 524.3,1658.3 527.3,1658 530.1,1658 532.7,1658.2 535,1658.6 536.9,1659.2 538.4,1660 539.4,1661 540,1662.2 544.5,1679.1 544.6,1680.4 544.2,1681.8 543.3,1683.3 542,1684.8 540.2,1686.3 538.1,1687.7 535.6,1689.1 532.8,1690.3 529.9,1691.4 526.8,1692.3 523.7,1693.1 520.6,1693.6 517.6,1693.9 514.8,1693.9 512.2,1693.7 509.9,1693.3 508,1692.7 506.5,1691.9 505.5,1690.9 504.9,1689.7 500.4,1672.8" fill="#fff" stroke="#fff" stroke-width="0.11"/>
<polygon points="514.4,1662.9 515.1,1660.5 521.2,1658.8 523,1660.6 527.6,1677.5 518.9,1679.8" fill="#fff" stroke="#000" stroke-width="1.37"/>
<polygon points="523,1660.6 521.2,1658.8 515.1,1660.5 514.4,1662.9" fill="#fff" stroke="#000" stroke-width="1.37"/>
<polyline points="521.2,1658.8 525.7,1675.8" fill="none" stroke="#000" stroke-width="1.25"/>
<polyline points="515.1,1660.5 519.6,1677.4" fill="none" stroke="#000" stroke-width="1.25"/>
<polygon points="522.8,1660.6 526.4,1658.1 531.8,1658.1 536.3,1675 535.1,1677.5 527.3,1677.5" fill="#fff" stroke="#000" stroke-width="1.37"/>
<polygon points="530.6,1660.6 531.8,1658.1 526.4,1658.1 522.8,1660.6" fill="#fff" stroke="#000" stroke-width="1.37"/>
<polyline points="531.8,1658.1 536.3,1675" fill="none" stroke="#000" stroke-width="1.25"/>
<polyline points="526.4,1658.1 530.9,1675" fill="none" stroke="#000" stroke-width="1.25"/>
<polygon points="505.5,1665 510.3,1662.4 514.6,1662.8 519.1,1679.7 512.3,1683.5 510,1682" fill="#fff" stroke="#000" stroke-width="1.37"/>
<polygon points="514.6,1662.8 510.3,1662.4 505.5,1665 507.8,1666.6" fill="#fff" stroke="#000" stroke-width="1.37"/>
<polyline points="510.3,1662.4 514.8,1679.3" fill="none" stroke="#000" stroke-width="1.25"/>
<polyline points="505.5,1665 510,1682" fill="none" stroke="#000" stroke-width="1.25"/>
<polygon points="530.4,1660.6 535.6,1658.7 538.7,1660.3 543.2,1677.2 539.3,1679.7 534.9,1677.5" fill="#fff" stroke="#000" stroke-width="1.37"/>
<polygon points="534.8,1662.8 538.7,1660.3 535.6,1658.7 530.4,1660.6" fill="#fff" stroke="#000" stroke-width="1.37"/>
<polyline points="538.7,1660.3 543.2,1677.2" fill="none" stroke="#000" stroke-width="1.25"/>
<polyline points="535.6,1658.7 540.1,1675.7" fill="none" stroke="#000" stroke-width="1.25"/>
<polygon points="500.6,1670.4 502.5,1667.5 507.9,1666.5 512.4,1683.4 509.7,1687.5 505.1,1687.3" fill="#fff" stroke="#000" stroke-width="1.37"/>
<polygon points="507.9,1666.5 502.5,1667.5 500.6,1670.4 505.1,1670.6" fill="#fff" stroke="#000" stroke-width="1.37"/>
<polyline points="502.5,1667.5 507,1684.4" fill="none" stroke="#000" stroke-width="1.25"/>
<polyline points="500.6,1670.4 505.1,1687.3" fill="none" stroke="#000" stroke-width="1.25"/>
<polygon points="534.4,1666.4 534.8,1662.7 540,1662.2 544.5,1679.1 544.3,1681.7 538.9,1683.3" fill="#fff" stroke="#000" stroke-width="1.37"/>
<polygon points="534.4,1666.4 539.7,1664.8 540,1662.2 534.8,1662.7" fill="#fff" stroke="#000" stroke-width="1.37"/>
<polyline points="539.7,1664.8 544.3,1681.7" fill="none" stroke="#000" stroke-width="1.25"/>
<polyline points="540,1662.2 544.5,1679.1" fill="none" stroke="#000" stroke-width="1.25"/>
<polygon points="500.4,1672.7 505.2,1670.5 507.3,1673.6 511.8,1690.5 506.4,1691.8 504.9,1689.6" fill="#fff" stroke="#000" stroke-width="1.37"/>
<polygon points="505.2,1670.5 500.4,1672.7 501.9,1674.8 507.3,1673.6" fill="#fff" stroke="#000" stroke-width="1.37"/>
<polyline points="500.4,1672.7 504.9,1689.6" fill="none" stroke="#000" stroke-width="1.25"/>
<polyline points="501.9,1674.8 506.4,1691.8" fill="none" stroke="#000" stroke-width="1.25"/>
<polygon points="529.5,1670.5 534.5,1666.3 538.1,1667.3 542.6,1684.2 539.1,1687.1 534,1687.4" fill="#fff" stroke="#000" stroke-width="1.37"/>
<polygon points="529.5,1670.5 534.6,1670.2 538.1,1667.3 534.5,1666.3" fill="#fff" stroke="#000" stroke-width="1.37"/>
<polyline points="534.6,1670.2 539.1,1687.1" fill="none" stroke="#000" stroke-width="1.25"/>
<polyline points="538.1,1667.3 542.6,1684.2" fill="none" stroke="#000" stroke-width="1.25"/>
<polygon points="504.5,1676.2 507.2,1673.6 513.5,1674.7 518,1691.6 513.5,1693.9 509,1693.1" fill="#fff" stroke="#000" stroke-width="1.37"/>
<polygon points="507.2,1673.6 504.5,1676.2 509,1677 513.5,1674.7" fill="#fff" stroke="#000" stroke-width="1.37"/>
<polyline points="504.5,1676.2 509,1693.1" fill="none" stroke="#000" stroke-width="1.25"/>
<polyline points="509,1677 513.5,1693.9" fill="none" stroke="#000" stroke-width="1.25"/>
<polygon points="521.6,1673.5 529.7,1670.4 530.5,1672.4 535,1689.4 529.3,1691.6 526.1,1690.4" fill="#fff" stroke="#000" stroke-width="1.37"/>
<polygon points="521.6,1673.5 524.8,1674.7 530.5,1672.4 529.7,1670.4" fill="#fff" stroke="#000" stroke-width="1.37"/>
<polyline points="524.8,1674.7 529.3,1691.6" fill="none" stroke="#000" stroke-width="1.25"/>
<polyline points="530.5,1672.4 535,1689.4" fill="none" stroke="#000" stroke-width="1.25"/>
<polygon points="513.3,1674.7 521.9,1673.5 526.4,1690.4 524.1,1693 518.1,1693.8 513.6,1676.9" fill="#fff" stroke="#000" stroke-width="1.37"/>
<polygon points="513.3,1674.7 513.6,1676.9 519.6,1676.1 521.9,1673.5" fill="#fff" stroke="#000" stroke-width="1.37"/>
<polyline points="513.6,1676.9 518.1,1693.8" fill="none" stroke="#000" stroke-width="1.25"/>
<polyline points="519.6,1676.1 524.1,1693" fill="none" stroke="#000" stroke-width="1.25"/>
<polygon points="508.1,1670.2 508.8,1671.3 510.3,1672.2 512.5,1672.7 515.2,1672.8 518.2,1672.5 521.3,1671.8 524.4,1670.8 527.2,1669.6 529.4,1668.1 531.1,1666.6 532,1665.2 532.1,1663.8 531.3,1662.7 529.8,1661.9 527.6,1661.4 525,1661.3 521.9,1661.6 518.8,1662.2 515.7,1663.2 513,1664.5 510.7,1665.9 509.1,1667.4 508.2,1668.9 508.1,1670.2" fill="#000" stroke="#000" stroke-width="1.14"/>
<polygon points="514.5,1669.5 514.9,1670.1 515.6,1670.5 516.7,1670.7 518,1670.8 519.4,1670.6 520.9,1670.3 522.4,1669.8 523.8,1669.2 524.9,1668.5 525.7,1667.8 526.1,1667.1 526.1,1666.4 525.8,1665.9 525,1665.5 524,1665.3 522.7,1665.2 521.2,1665.3 519.7,1665.7 518.2,1666.1 516.9,1666.7 515.8,1667.4 515,1668.2 514.6,1668.9 514.5,1669.5" fill="#fff" stroke="#000" stroke-width="1.14"/>
<polyline points="202.4,1218.7 218.5,1209.4 220.9,1204.5 221.5,1203.8 221.6,1202.9 221.2,1201.8 220.5,1201 219.6,1200.6 218.7,1200.7 213.3,1200.4 197.2,1209.6" fill="#fff" stroke="#000" stroke-width="1.71"/>
<polyline points="218.5,1209.4 219.5,1208.3 220,1206.8 219.8,1204.9 219.1,1203 217.9,1201.4 216.3,1200.4 214.7,1200 213.3,1200.4" fill="none" stroke="#000" stroke-width="1.45"/>
<polyline points="204.9,1225.4 206,1224.8 207.8,1223.3 209,1221.2 209.6,1218.6 209.5,1215.6 208.8,1212.6 207.5,1209.7 205.6,1207.1 203.4,1205 200.9,1203.5 198.3,1202.7 195.9,1202.7 193.7,1203.5 192.6,1204.1" fill="#fff" stroke="#000" stroke-width="2.31"/>
<polygon points="204.9,1225.4 206.7,1223.9 208,1221.8 208.6,1219.2 208.5,1216.2 207.8,1213.2 206.5,1210.3 204.6,1207.7 202.4,1205.6 199.9,1204.1 197.3,1203.3 194.8,1203.3 192.6,1204.1 190.9,1205.6 189.6,1207.7 189,1210.3 189.1,1213.3 189.8,1216.3 191.1,1219.2 193,1221.8 195.2,1223.9 197.7,1225.4 200.3,1226.2 202.7,1226.2 204.9,1225.4" fill="#fff" stroke="#000" stroke-width="2.31"/>
<polygon points="189.1,1210 195.5,1206.2 197.5,1205.1 205.3,1211 206.5,1220.7 200.1,1224.4 198.1,1225.6 190.3,1219.6" fill="#fff" stroke="#000" stroke-width="2.14"/>
<polygon points="204.5,1221.8 203.3,1212.2 195.5,1206.2 189.1,1210 190.3,1219.6 198.1,1225.6" fill="#fff" stroke="#000" stroke-width="2.14"/>
<polyline points="204.5,1221.8 206.5,1220.7" fill="none" stroke="#000" stroke-width="2.14"/>
<polyline points="203.3,1212.2 205.3,1211" fill="none" stroke="#000" stroke-width="2.14"/>
<polyline points="195.5,1206.2 197.5,1205.1" fill="none" stroke="#000" stroke-width="2.14"/>
<polygon points="200,1221.5 201,1220.7 201.6,1219.6 201.9,1218.2 201.9,1216.7 201.5,1215.1 200.8,1213.6 199.8,1212.2 198.7,1211.1 197.4,1210.3 196,1209.9 194.7,1209.9 193.6,1210.3 192.6,1211.1 192,1212.2 191.7,1213.6 191.7,1215.1 192.1,1216.7 192.8,1218.2 193.8,1219.6 194.9,1220.7 196.2,1221.5 197.6,1221.9 198.9,1221.9 200,1221.5" fill="none" stroke="#000" stroke-width="1.62"/>
<polyline points="257.9,1253.3 274,1244 276.4,1239.1 277,1238.4 277.1,1237.5 276.7,1236.4 276,1235.6 275.1,1235.2 274.2,1235.3 268.8,1235 252.7,1244.2" fill="#fff" stroke="#000" stroke-width="1.71"/>
<polyline points="274,1244 275,1242.9 275.5,1241.4 275.3,1239.5 274.6,1237.6 273.4,1236 271.8,1235 270.2,1234.6 268.8,1235" fill="none" stroke="#000" stroke-width="1.45"/>
<polyline points="260.4,1260 261.5,1259.4 263.3,1257.9 264.5,1255.8 265.1,1253.2 265,1250.2 264.3,1247.2 263,1244.3 261.1,1241.7 258.9,1239.6 256.4,1238.1 253.8,1237.3 251.4,1237.3 249.2,1238.1 248.1,1238.7" fill="#fff" stroke="#000" stroke-width="2.31"/>
<polygon points="260.4,1260 262.2,1258.5 263.5,1256.4 264.1,1253.8 264,1250.8 263.3,1247.8 262,1244.9 260.1,1242.3 257.9,1240.2 255.4,1238.7 252.8,1237.9 250.3,1237.9 248.1,1238.7 246.4,1240.2 245.1,1242.3 244.5,1244.9 244.6,1247.9 245.3,1250.9 246.6,1253.8 248.5,1256.4 250.7,1258.5 253.2,1260 255.8,1260.8 258.2,1260.8 260.4,1260" fill="#fff" stroke="#000" stroke-width="2.31"/>
<polygon points="244.6,1244.6 251,1240.8 253,1239.7 260.8,1245.6 262,1255.3 255.6,1259 253.6,1260.2 245.8,1254.2" fill="#fff" stroke="#000" stroke-width="2.14"/>
<polygon points="260,1256.4 258.8,1246.8 251,1240.8 244.6,1244.6 245.8,1254.2 253.6,1260.2" fill="#fff" stroke="#000" stroke-width="2.14"/>
<polyline points="260,1256.4 262,1255.3" fill="none" stroke="#000" stroke-width="2.14"/>
<polyline points="258.8,1246.8 260.8,1245.6" fill="none" stroke="#000" stroke-width="2.14"/>
<polyline points="251,1240.8 253,1239.7" fill="none" stroke="#000" stroke-width="2.14"/>
<polygon points="255.5,1256.1 256.5,1255.3 257.1,1254.2 257.4,1252.8 257.4,1251.3 257,1249.7 256.3,1248.2 255.3,1246.8 254.2,1245.7 252.9,1244.9 251.5,1244.5 250.2,1244.5 249.1,1244.9 248.1,1245.7 247.5,1246.8 247.2,1248.2 247.2,1249.7 247.6,1251.3 248.3,1252.8 249.3,1254.2 250.4,1255.3 251.7,1256.1 253.1,1256.5 254.4,1256.5 255.5,1256.1" fill="none" stroke="#000" stroke-width="1.62"/>
<!-- axis_lines -->
<polyline points="407.2,962.5 407.2,1346" fill="none" stroke="#000" stroke-width="1.37" stroke-dasharray="30 3"/>
<polyline points="469.8,973 469.8,1322" fill="none" stroke="#000" stroke-width="1.37" stroke-dasharray="26 4"/>
<polyline points="614.3,947.5 614.3,1013" fill="none" stroke="#000" stroke-width="1.37" stroke-dasharray="20 4 1.5 4"/>
<polyline points="365.7,1101 365.7,1169" fill="none" stroke="#000" stroke-width="1.37" stroke-dasharray="24 4 1.5 4"/>
<polyline points="426,1053.5 426,1071" fill="none" stroke="#000" stroke-width="1.37"/>
<circle cx="426" cy="1078" r="0.9" fill="#000"/>
<polyline points="426,1158 426,1364" fill="none" stroke="#000" stroke-width="1.37" stroke-dasharray="22 4 1.5 4"/>
<polyline points="520.4,1072.5 520.4,1136" fill="none" stroke="#000" stroke-width="1.37"/>
<polyline points="520.4,1140 520.4,1288" fill="none" stroke="#000" stroke-width="1.37" stroke-dasharray="24 4"/>
<polyline points="333.3,1207 333.3,1262" fill="none" stroke="#000" stroke-width="1.37"/>
<polyline points="333.3,1272 333.3,1396" fill="none" stroke="#000" stroke-width="1.37" stroke-dasharray="30 4"/>
<polyline points="366.9,1097 473,1494" fill="none" stroke="#000" stroke-width="1.37" stroke-dasharray="52 5"/>
<polyline points="475.7,1504 500.8,1598" fill="none" stroke="#000" stroke-width="1.37" stroke-dasharray="25 9"/>
<polyline points="502.9,1606 539.3,1742" fill="none" stroke="#000" stroke-width="1.37" stroke-dasharray="13 6"/>
<polyline points="632.5,965 582,994.5" fill="none" stroke="#000" stroke-width="1.37" stroke-dasharray="22 4 1.5 4"/>
<polyline points="686.5,998 639,1026" fill="none" stroke="#000" stroke-width="1.37" stroke-dasharray="22 4 1.5 4"/>
<polyline points="254,1183 244.8,1189.4" fill="none" stroke="#000" stroke-width="1.37"/>
<circle cx="237.6" cy="1193.2" r="0.9" fill="#000"/>
<polyline points="231,1196.7 220.5,1202.6" fill="none" stroke="#000" stroke-width="1.37"/>
<polyline points="309.5,1218.5 299.8,1223.7" fill="none" stroke="#000" stroke-width="1.37"/>
<circle cx="292.6" cy="1227.5" r="0.9" fill="#000"/>
<polyline points="286,1230.8 275.5,1237" fill="none" stroke="#000" stroke-width="1.37"/>
<polyline points="986.5,1286.5 1010,1300" fill="none" stroke="#000" stroke-width="1.37"/>
<polyline points="1037.5,1312.8 1046,1318.2" fill="none" stroke="#000" stroke-width="1.37"/>
<polyline points="1055.5,1327 1079,1340.2" fill="none" stroke="#000" stroke-width="1.37"/>
<!-- leaders -->
<polyline points="195,62.7 159,62.7" fill="none" stroke="#000" stroke-width="1.37"/>
<polyline points="159,62.7 110,104" fill="none" stroke="#000" stroke-width="1.37"/>
<polygon points="110,104 119.1,90.7 124.6,97.3" fill="#fff" stroke="#000" stroke-width="1.37"/>
<polyline points="121.9,94 110,104" fill="none" stroke="#000" stroke-width="1.37"/>
<polyline points="208,123.6 171.7,123.6" fill="none" stroke="#000" stroke-width="1.37"/>
<polyline points="171.7,123.6 133.8,158.5" fill="none" stroke="#000" stroke-width="1.37"/>
<polygon points="133.8,158.5 142.3,144.8 148.1,151.2" fill="#fff" stroke="#000" stroke-width="1.37"/>
<polyline points="145.2,148 133.8,158.5" fill="none" stroke="#000" stroke-width="1.37"/>
<polyline points="379.5,546.4 343.5,546.4" fill="none" stroke="#000" stroke-width="1.37"/>
<polyline points="343.5,546.4 253.2,622.6" fill="none" stroke="#000" stroke-width="1.37"/>
<polygon points="253.2,622.6 262.3,609.3 267.8,615.9" fill="#fff" stroke="#000" stroke-width="1.37"/>
<polyline points="265,612.6 253.2,622.6" fill="none" stroke="#000" stroke-width="1.37"/>
<polyline points="525,732.6 489.5,732.6" fill="none" stroke="#000" stroke-width="1.37"/>
<polyline points="489.5,732.6 410.8,917.4" fill="none" stroke="#000" stroke-width="1.37"/>
<polygon points="410.8,917.4 412.9,901.5 420.8,904.8" fill="#fff" stroke="#000" stroke-width="1.37"/>
<polyline points="416.9,903.1 410.8,917.4" fill="none" stroke="#000" stroke-width="1.37"/>
<polyline points="557.5,792.6 522.1,792.6" fill="none" stroke="#000" stroke-width="1.37"/>
<polyline points="522.1,792.6 479,956.7" fill="none" stroke="#000" stroke-width="1.37"/>
<polygon points="479,956.7 478.8,940.6 487.1,942.8" fill="#fff" stroke="#000" stroke-width="1.37"/>
<polyline points="482.9,941.7 479,956.7" fill="none" stroke="#000" stroke-width="1.37"/>
<polyline points="605.5,843.5 569.8,843.5" fill="none" stroke="#000" stroke-width="1.37"/>
<polyline points="569.8,843.5 556.9,978.5" fill="none" stroke="#000" stroke-width="1.37"/>
<polygon points="556.9,978.5 554.1,962.7 562.7,963.5" fill="#fff" stroke="#000" stroke-width="1.37"/>
<polyline points="558.4,963.1 556.9,978.5" fill="none" stroke="#000" stroke-width="1.37"/>
<polyline points="708.5,883 673.2,883" fill="none" stroke="#000" stroke-width="1.37"/>
<polyline points="673.2,883 622.4,913.2" fill="none" stroke="#000" stroke-width="1.37"/>
<polygon points="622.4,913.2 633.5,901.6 637.9,909" fill="#fff" stroke="#000" stroke-width="1.37"/>
<polyline points="635.7,905.3 622.4,913.2" fill="none" stroke="#000" stroke-width="1.37"/>
<polyline points="800,940.3 763.9,940.3" fill="none" stroke="#000" stroke-width="1.37"/>
<polyline points="763.9,940.3 664.9,947.9" fill="none" stroke="#000" stroke-width="1.37"/>
<polygon points="664.9,947.9 680,942.4 680.7,951" fill="#fff" stroke="#000" stroke-width="1.37"/>
<polyline points="680.4,946.7 664.9,947.9" fill="none" stroke="#000" stroke-width="1.37"/>
<polyline points="763.9,940.3 720.8,980.9" fill="none" stroke="#000" stroke-width="1.37"/>
<polygon points="720.8,980.9 729.1,967.1 735,973.4" fill="#fff" stroke="#000" stroke-width="1.37"/>
<polyline points="732.1,970.3 720.8,980.9" fill="none" stroke="#000" stroke-width="1.37"/>
<polyline points="191,1029.5 228.7,1029.5 312,1042.5" fill="none" stroke="#000" stroke-width="1.37"/>
<polyline points="168.6,1126.2 204,1126.2" fill="none" stroke="#000" stroke-width="1.37"/>
<polyline points="204,1126.2 353.3,1080.6" fill="none" stroke="#000" stroke-width="1.37"/>
<polygon points="353.3,1080.6 339.7,1089.2 337.2,1081" fill="#fff" stroke="#000" stroke-width="1.37"/>
<polyline points="338.5,1085.1 353.3,1080.6" fill="none" stroke="#000" stroke-width="1.37"/>
<polyline points="672,1062.9 636.3,1062.9" fill="none" stroke="#000" stroke-width="1.37"/>
<polyline points="636.3,1062.9 540.8,1134.7" fill="none" stroke="#000" stroke-width="1.37"/>
<polygon points="540.8,1134.7 550.6,1121.9 555.8,1128.8" fill="#fff" stroke="#000" stroke-width="1.37"/>
<polyline points="553.2,1125.4 540.8,1134.7" fill="none" stroke="#000" stroke-width="1.37"/>
<polyline points="834.5,1134.2 799,1134.2" fill="none" stroke="#000" stroke-width="1.37"/>
<polyline points="799,1134.2 754.7,1215.1" fill="none" stroke="#000" stroke-width="1.37"/>
<polygon points="754.7,1215.1 758.4,1199.4 765.9,1203.6" fill="#fff" stroke="#000" stroke-width="1.37"/>
<polyline points="762.1,1201.5 754.7,1215.1" fill="none" stroke="#000" stroke-width="1.37"/>
<polyline points="1147.5,1190.1 1112.1,1190.1" fill="none" stroke="#000" stroke-width="1.37"/>
<polyline points="1112.1,1190.1 1034.3,1297.9" fill="none" stroke="#000" stroke-width="1.37"/>
<polygon points="1034.3,1297.9 1039.9,1282.8 1046.9,1287.8" fill="#fff" stroke="#000" stroke-width="1.37"/>
<polyline points="1043.4,1285.3 1034.3,1297.9" fill="none" stroke="#000" stroke-width="1.37"/>
<polyline points="1175.8,1256.7 1140.4,1256.7" fill="none" stroke="#000" stroke-width="1.37"/>
<polyline points="1140.4,1256.7 1096.8,1335.2" fill="none" stroke="#000" stroke-width="1.37"/>
<polygon points="1096.8,1335.2 1100.6,1319.6 1108.1,1323.7" fill="#fff" stroke="#000" stroke-width="1.37"/>
<polyline points="1104.3,1321.6 1096.8,1335.2" fill="none" stroke="#000" stroke-width="1.37"/>
<polyline points="106,1274.8 142.6,1274.8" fill="none" stroke="#000" stroke-width="1.37"/>
<polyline points="142.6,1274.8 188.6,1224" fill="none" stroke="#000" stroke-width="1.37"/>
<polygon points="188.6,1224 181.4,1238.4 175,1232.6" fill="#fff" stroke="#000" stroke-width="1.37"/>
<polyline points="178.2,1235.5 188.6,1224" fill="none" stroke="#000" stroke-width="1.37"/>
<polyline points="142.6,1274.8 242.8,1258.3" fill="none" stroke="#000" stroke-width="1.37"/>
<polygon points="242.8,1258.3 228.2,1265.1 226.8,1256.6" fill="#fff" stroke="#000" stroke-width="1.37"/>
<polyline points="227.5,1260.8 242.8,1258.3" fill="none" stroke="#000" stroke-width="1.37"/>
<polyline points="606.5,1314.4 571.5,1314.4" fill="none" stroke="#000" stroke-width="1.37"/>
<polyline points="571.5,1314.4 529,1302.8" fill="none" stroke="#000" stroke-width="1.37"/>
<polygon points="529,1302.8 545.1,1302.7 542.8,1311" fill="#fff" stroke="#000" stroke-width="1.37"/>
<polyline points="544,1306.9 529,1302.8" fill="none" stroke="#000" stroke-width="1.37"/>
<polyline points="614,1365.3 577.4,1365.3" fill="none" stroke="#000" stroke-width="1.37"/>
<polyline points="577.4,1365.3 489.8,1301.9" fill="none" stroke="#000" stroke-width="1.37"/>
<polygon points="489.8,1301.9 504.9,1307.5 499.8,1314.5" fill="#fff" stroke="#000" stroke-width="1.37"/>
<polyline points="502.4,1311 489.8,1301.9" fill="none" stroke="#000" stroke-width="1.37"/>
<polyline points="549,1401.9 513.3,1401.9" fill="none" stroke="#000" stroke-width="1.37"/>
<polyline points="513.3,1401.9 478.5,1360.8" fill="none" stroke="#000" stroke-width="1.37"/>
<polygon points="478.5,1360.8 491.8,1369.9 485.2,1375.4" fill="#fff" stroke="#000" stroke-width="1.37"/>
<polyline points="488.5,1372.6 478.5,1360.8" fill="none" stroke="#000" stroke-width="1.37"/>
<polyline points="159,1390.8 194.4,1390.8" fill="none" stroke="#000" stroke-width="1.37"/>
<polyline points="194.4,1390.8 383.8,1296.3" fill="none" stroke="#000" stroke-width="1.37"/>
<polygon points="383.8,1296.3 371.9,1307.1 368,1299.4" fill="#fff" stroke="#000" stroke-width="1.37"/>
<polyline points="369.9,1303.2 383.8,1296.3" fill="none" stroke="#000" stroke-width="1.37"/>
<polyline points="140.2,1451 176.7,1451" fill="none" stroke="#000" stroke-width="1.37"/>
<polyline points="176.7,1451 391,1352.2" fill="none" stroke="#000" stroke-width="1.37"/>
<polygon points="391,1352.2 378.7,1362.6 375.1,1354.8" fill="#fff" stroke="#000" stroke-width="1.37"/>
<polyline points="376.9,1358.7 391,1352.2" fill="none" stroke="#000" stroke-width="1.37"/>
<polyline points="680.6,1426.7 644.6,1426.7" fill="none" stroke="#000" stroke-width="1.37"/>
<polyline points="644.6,1426.7 542.5,1491" fill="none" stroke="#000" stroke-width="1.37"/>
<polygon points="542.5,1491 553.3,1479.1 557.9,1486.4" fill="#fff" stroke="#000" stroke-width="1.37"/>
<polyline points="555.6,1482.7 542.5,1491" fill="none" stroke="#000" stroke-width="1.37"/>
<polyline points="457,1495.3 467.5,1495.3" fill="none" stroke="#000" stroke-width="1.37"/>
<polyline points="467.5,1495.3 491.5,1483.5" fill="none" stroke="#000" stroke-width="1.37"/>
<polygon points="491.5,1483.5 479.5,1494.2 475.7,1486.5" fill="#fff" stroke="#000" stroke-width="1.37"/>
<polyline points="477.6,1490.3 491.5,1483.5" fill="none" stroke="#000" stroke-width="1.37"/>
<polyline points="687.7,1496.9 651.7,1496.9" fill="none" stroke="#000" stroke-width="1.37"/>
<polyline points="651.7,1496.9 589.2,1528" fill="none" stroke="#000" stroke-width="1.37"/>
<polygon points="589.2,1528 601.2,1517.2 605,1524.9" fill="#fff" stroke="#000" stroke-width="1.37"/>
<polyline points="603.1,1521.1 589.2,1528" fill="none" stroke="#000" stroke-width="1.37"/>
<polyline points="207.4,1526 242.8,1526" fill="none" stroke="#000" stroke-width="1.37"/>
<polyline points="242.8,1526 325,1413.6" fill="none" stroke="#000" stroke-width="1.37"/>
<polygon points="325,1413.6 319.3,1428.6 312.4,1423.6" fill="#fff" stroke="#000" stroke-width="1.37"/>
<polyline points="315.9,1426.1 325,1413.6" fill="none" stroke="#000" stroke-width="1.37"/>
<polyline points="273,1571.2 308.8,1571.2" fill="none" stroke="#000" stroke-width="1.37"/>
<polyline points="308.8,1571.2 423.2,1391.5" fill="none" stroke="#000" stroke-width="1.37"/>
<polygon points="423.2,1391.5 418.5,1406.9 411.2,1402.3" fill="#fff" stroke="#000" stroke-width="1.37"/>
<polyline points="414.9,1404.6 423.2,1391.5" fill="none" stroke="#000" stroke-width="1.37"/>
<polyline points="386,1635.2 422.6,1635.2" fill="none" stroke="#000" stroke-width="1.37"/>
<polyline points="422.6,1635.2 482.4,1608.5" fill="none" stroke="#000" stroke-width="1.37"/>
<polygon points="482.4,1608.5 470,1618.7 466.5,1610.9" fill="#fff" stroke="#000" stroke-width="1.37"/>
<polyline points="468.2,1614.8 482.4,1608.5" fill="none" stroke="#000" stroke-width="1.37"/>
<polyline points="625,1633.4 589.3,1633.4" fill="none" stroke="#000" stroke-width="1.37"/>
<polyline points="589.3,1633.4 542.1,1666.7" fill="none" stroke="#000" stroke-width="1.37"/>
<polygon points="542.1,1666.7 552.3,1654.3 557.2,1661.3" fill="#fff" stroke="#000" stroke-width="1.37"/>
<polyline points="554.8,1657.8 542.1,1666.7" fill="none" stroke="#000" stroke-width="1.37"/>
<polyline points="637.5,1700.3 603.5,1700.3" fill="none" stroke="#000" stroke-width="1.37"/>
<polyline points="603.5,1700.3 556.3,1738" fill="none" stroke="#000" stroke-width="1.37"/>
<polygon points="556.3,1738 565.7,1725 571.1,1731.7" fill="#fff" stroke="#000" stroke-width="1.37"/>
<polyline points="568.4,1728.3 556.3,1738" fill="none" stroke="#000" stroke-width="1.37"/>
<!-- balloons -->
<circle cx="219.4" cy="62.5" r="24.8" fill="#fff" stroke="#000" stroke-width="1.6"/>
<g transform="translate(211.4 53.5)" fill="none" stroke="#000" stroke-width="1.5" stroke-linejoin="round">
<path d="M11.5 18V0L0 12.5H16"/>
</g>
<circle cx="232.6" cy="124.3" r="24.8" fill="#fff" stroke="#000" stroke-width="1.6"/>
<g transform="translate(214.8 115.3)" fill="none" stroke="#000" stroke-width="1.5" stroke-linejoin="round">
<path d="M5.6 2.1L8.7 0V18"/>
<path d="M5.4 18H11"/>
</g>
<g transform="translate(234.3 115.3)" fill="none" stroke="#000" stroke-width="1.5" stroke-linejoin="round">
<path d="M15 0H1V7.5H12.4Q16 7.5 16 11.1V14.4Q16 18 12.4 18H3.6Q0 18 0 15.6"/>
</g>
<circle cx="404" cy="546.6" r="24.8" fill="#fff" stroke="#000" stroke-width="1.6"/>
<g transform="translate(386.2 537.6)" fill="none" stroke="#000" stroke-width="1.5" stroke-linejoin="round">
<path d="M5.6 2.1L8.7 0V18"/>
<path d="M5.4 18H11"/>
</g>
<g transform="translate(405.8 537.6)" fill="none" stroke="#000" stroke-width="1.5" stroke-linejoin="round">
<path d="M3.7 0H12.3Q15.5 0 15.5 3.7V5.499999999999999Q15.5 8.7 12.3 8.7H3.7Q0.5 8.7 0.5 5.499999999999999V3.7Q0.5 0 3.7 0Z"/>
<path d="M3.2 8.7H12.8Q16 8.7 16 11.899999999999999V14.8Q16 18 12.8 18H3.2Q0 18 0 14.8V11.899999999999999Q0 8.7 3.2 8.7Z"/>
</g>
<circle cx="549.7" cy="732.6" r="24.8" fill="#fff" stroke="#000" stroke-width="1.6"/>
<g transform="translate(541.7 723.6)" fill="none" stroke="#000" stroke-width="1.5" stroke-linejoin="round">
<path d="M0 2.4Q0 0 3.6 0H12.4Q16 0 16 3.6V5.4Q16 9 12.4 9H6"/>
<path d="M12.4 9Q16 9 16 12.6V14.4Q16 18 12.4 18H3.6Q0 18 0 15.6"/>
</g>
<circle cx="582.2" cy="792.6" r="24.8" fill="#fff" stroke="#000" stroke-width="1.6"/>
<g transform="translate(574.2 783.6)" fill="none" stroke="#000" stroke-width="1.5" stroke-linejoin="round">
<path d="M3.7 0H12.3Q15.5 0 15.5 3.7V5.499999999999999Q15.5 8.7 12.3 8.7H3.7Q0.5 8.7 0.5 5.499999999999999V3.7Q0.5 0 3.7 0Z"/>
<path d="M3.2 8.7H12.8Q16 8.7 16 11.899999999999999V14.8Q16 18 12.8 18H3.2Q0 18 0 14.8V11.899999999999999Q0 8.7 3.2 8.7Z"/>
</g>
<circle cx="630" cy="843.5" r="24.8" fill="#fff" stroke="#000" stroke-width="1.6"/>
<g transform="translate(612.2 834.5)" fill="none" stroke="#000" stroke-width="1.5" stroke-linejoin="round">
<path d="M0 3.6Q0 0 3.6 0H12.4Q16 0 16 3.6V5Q16 7.3 13.8 8.3L1.6 14.4Q0.4 15 0.4 16.4V18H16"/>
</g>
<g transform="translate(631.8 834.5)" fill="none" stroke="#000" stroke-width="1.5" stroke-linejoin="round">
<path d="M0 3.6Q0 0 3.6 0H12.4Q16 0 16 3.6V5Q16 7.3 13.8 8.3L1.6 14.4Q0.4 15 0.4 16.4V18H16"/>
</g>
<circle cx="733.3" cy="883" r="24.8" fill="#fff" stroke="#000" stroke-width="1.6"/>
<g transform="translate(725.3 874)" fill="none" stroke="#000" stroke-width="1.5" stroke-linejoin="round">
<path d="M0 3.6Q0 0 3.6 0H12.4Q16 0 16 3.6V5Q16 7.3 13.8 8.3L1.6 14.4Q0.4 15 0.4 16.4V18H16"/>
</g>
<circle cx="824.8" cy="940.3" r="24.8" fill="#fff" stroke="#000" stroke-width="1.6"/>
<g transform="translate(816.8 931.3)" fill="none" stroke="#000" stroke-width="1.5" stroke-linejoin="round">
<path d="M0 3.6Q0 0 3.6 0H12.4Q16 0 16 3.6V5Q16 7.3 13.8 8.3L1.6 14.4Q0.4 15 0.4 16.4V18H16"/>
</g>
<circle cx="166.2" cy="1029.5" r="24.8" fill="#fff" stroke="#000" stroke-width="1.6"/>
<g transform="translate(148.4 1020.5)" fill="none" stroke="#000" stroke-width="1.5" stroke-linejoin="round">
<path d="M0 3.6Q0 0 3.6 0H12.4Q16 0 16 3.6V5Q16 7.3 13.8 8.3L1.6 14.4Q0.4 15 0.4 16.4V18H16"/>
</g>
<g transform="translate(167.9 1020.5)" fill="none" stroke="#000" stroke-width="1.5" stroke-linejoin="round">
<path d="M5.6 2.1L8.7 0V18"/>
<path d="M5.4 18H11"/>
</g>
<circle cx="143.8" cy="1126.2" r="24.8" fill="#fff" stroke="#000" stroke-width="1.6"/>
<g transform="translate(135.8 1117.2)" fill="none" stroke="#000" stroke-width="1.5" stroke-linejoin="round">
<path d="M0 3.6Q0 0 3.6 0H12.4Q16 0 16 3.6V5Q16 7.3 13.8 8.3L1.6 14.4Q0.4 15 0.4 16.4V18H16"/>
</g>
<circle cx="696.5" cy="1063" r="24.8" fill="#fff" stroke="#000" stroke-width="1.6"/>
<g transform="translate(678.8 1054)" fill="none" stroke="#000" stroke-width="1.5" stroke-linejoin="round">
<path d="M5.6 2.1L8.7 0V18"/>
<path d="M5.4 18H11"/>
</g>
<g transform="translate(698.2 1054)" fill="none" stroke="#000" stroke-width="1.5" stroke-linejoin="round">
<path d="M5.6 2.1L8.7 0V18"/>
<path d="M5.4 18H11"/>
</g>
<circle cx="859.2" cy="1134.2" r="24.8" fill="#fff" stroke="#000" stroke-width="1.6"/>
<g transform="translate(851.2 1125.2)" fill="none" stroke="#000" stroke-width="1.5" stroke-linejoin="round">
<path d="M15 0H1V7.5H12.4Q16 7.5 16 11.1V14.4Q16 18 12.4 18H3.6Q0 18 0 15.6"/>
</g>
<circle cx="1172.3" cy="1190.1" r="24.8" fill="#fff" stroke="#000" stroke-width="1.6"/>
<g transform="translate(1164.3 1181.1)" fill="none" stroke="#000" stroke-width="1.5" stroke-linejoin="round">
<path d="M0 0H16L6 18"/>
</g>
<circle cx="1200.6" cy="1256.7" r="24.8" fill="#fff" stroke="#000" stroke-width="1.6"/>
<g transform="translate(1182.8 1247.7)" fill="none" stroke="#000" stroke-width="1.5" stroke-linejoin="round">
<path d="M5.6 2.1L8.7 0V18"/>
<path d="M5.4 18H11"/>
</g>
<g transform="translate(1202.3 1247.7)" fill="none" stroke="#000" stroke-width="1.5" stroke-linejoin="round">
<path d="M0 2.4Q0 0 3.6 0H12.4Q16 0 16 3.6V5.4Q16 9 12.4 9H6"/>
<path d="M12.4 9Q16 9 16 12.6V14.4Q16 18 12.4 18H3.6Q0 18 0 15.6"/>
</g>
<circle cx="81.3" cy="1274.8" r="24.8" fill="#fff" stroke="#000" stroke-width="1.6"/>
<g transform="translate(73.3 1265.8)" fill="none" stroke="#000" stroke-width="1.5" stroke-linejoin="round">
<path d="M0 3.6Q0 0 3.6 0H12.4Q16 0 16 3.6V5Q16 7.3 13.8 8.3L1.6 14.4Q0.4 15 0.4 16.4V18H16"/>
</g>
<circle cx="631.1" cy="1314.6" r="24.8" fill="#fff" stroke="#000" stroke-width="1.6"/>
<g transform="translate(613.4 1305.6)" fill="none" stroke="#000" stroke-width="1.5" stroke-linejoin="round">
<path d="M5.6 2.1L8.7 0V18"/>
<path d="M5.4 18H11"/>
</g>
<g transform="translate(632.9 1305.6)" fill="none" stroke="#000" stroke-width="1.5" stroke-linejoin="round">
<path d="M5.2 0H10.8Q16 0 16 5.2V12.8Q16 18 10.8 18H5.2Q0 18 0 12.8V5.2Q0 0 5.2 0Z"/>
</g>
<circle cx="638.7" cy="1365.3" r="24.8" fill="#fff" stroke="#000" stroke-width="1.6"/>
<g transform="translate(621 1356.3)" fill="none" stroke="#000" stroke-width="1.5" stroke-linejoin="round">
<path d="M5.6 2.1L8.7 0V18"/>
<path d="M5.4 18H11"/>
</g>
<g transform="translate(640.5 1356.3)" fill="none" stroke="#000" stroke-width="1.5" stroke-linejoin="round">
<path d="M16 10H3.6Q0 10 0 6.4V3.6Q0 0 3.6 0H12.4Q16 0 16 3.6V14.4Q16 18 12.4 18H1"/>
</g>
<circle cx="573.8" cy="1401.9" r="24.8" fill="#fff" stroke="#000" stroke-width="1.6"/>
<g transform="translate(565.8 1392.9)" fill="none" stroke="#000" stroke-width="1.5" stroke-linejoin="round">
<path d="M5.6 2.1L8.7 0V18"/>
<path d="M5.4 18H11"/>
</g>
<circle cx="134.3" cy="1390.8" r="24.8" fill="#fff" stroke="#000" stroke-width="1.6"/>
<g transform="translate(116.6 1381.8)" fill="none" stroke="#000" stroke-width="1.5" stroke-linejoin="round">
<path d="M0 3.6Q0 0 3.6 0H12.4Q16 0 16 3.6V5Q16 7.3 13.8 8.3L1.6 14.4Q0.4 15 0.4 16.4V18H16"/>
</g>
<g transform="translate(136.1 1381.8)" fill="none" stroke="#000" stroke-width="1.5" stroke-linejoin="round">
<path d="M5.2 0H10.8Q16 0 16 5.2V12.8Q16 18 10.8 18H5.2Q0 18 0 12.8V5.2Q0 0 5.2 0Z"/>
</g>
<circle cx="115.4" cy="1451" r="24.8" fill="#fff" stroke="#000" stroke-width="1.6"/>
<g transform="translate(107.4 1442)" fill="none" stroke="#000" stroke-width="1.5" stroke-linejoin="round">
<path d="M3.7 0H12.3Q15.5 0 15.5 3.7V5.499999999999999Q15.5 8.7 12.3 8.7H3.7Q0.5 8.7 0.5 5.499999999999999V3.7Q0.5 0 3.7 0Z"/>
<path d="M3.2 8.7H12.8Q16 8.7 16 11.899999999999999V14.8Q16 18 12.8 18H3.2Q0 18 0 14.8V11.899999999999999Q0 8.7 3.2 8.7Z"/>
</g>
<circle cx="705.4" cy="1426.7" r="24.8" fill="#fff" stroke="#000" stroke-width="1.6"/>
<g transform="translate(697.4 1417.7)" fill="none" stroke="#000" stroke-width="1.5" stroke-linejoin="round">
<path d="M0 0H16L6 18"/>
</g>
<circle cx="432.1" cy="1495.3" r="24.8" fill="#fff" stroke="#000" stroke-width="1.6"/>
<g transform="translate(424.1 1486.3)" fill="none" stroke="#000" stroke-width="1.5" stroke-linejoin="round">
<path d="M15.5 0H3.6Q0 0 0 3.6V14.4Q0 18 3.6 18H12.4Q16 18 16 14.4V11.6Q16 8 12.4 8H0"/>
</g>
<circle cx="712.5" cy="1496.9" r="24.8" fill="#fff" stroke="#000" stroke-width="1.6"/>
<g transform="translate(694.8 1487.9)" fill="none" stroke="#000" stroke-width="1.5" stroke-linejoin="round">
<path d="M5.6 2.1L8.7 0V18"/>
<path d="M5.4 18H11"/>
</g>
<g transform="translate(714.2 1487.9)" fill="none" stroke="#000" stroke-width="1.5" stroke-linejoin="round">
<path d="M0 2.4Q0 0 3.6 0H12.4Q16 0 16 3.6V5.4Q16 9 12.4 9H6"/>
<path d="M12.4 9Q16 9 16 12.6V14.4Q16 18 12.4 18H3.6Q0 18 0 15.6"/>
</g>
<circle cx="182.6" cy="1526" r="24.8" fill="#fff" stroke="#000" stroke-width="1.6"/>
<g transform="translate(164.8 1517)" fill="none" stroke="#000" stroke-width="1.5" stroke-linejoin="round">
<path d="M5.6 2.1L8.7 0V18"/>
<path d="M5.4 18H11"/>
</g>
<g transform="translate(184.3 1517)" fill="none" stroke="#000" stroke-width="1.5" stroke-linejoin="round">
<path d="M5.2 0H10.8Q16 0 16 5.2V12.8Q16 18 10.8 18H5.2Q0 18 0 12.8V5.2Q0 0 5.2 0Z"/>
</g>
<circle cx="248.2" cy="1571.2" r="24.8" fill="#fff" stroke="#000" stroke-width="1.6"/>
<g transform="translate(230.4 1562.2)" fill="none" stroke="#000" stroke-width="1.5" stroke-linejoin="round">
<path d="M5.6 2.1L8.7 0V18"/>
<path d="M5.4 18H11"/>
</g>
<g transform="translate(249.9 1562.2)" fill="none" stroke="#000" stroke-width="1.5" stroke-linejoin="round">
<path d="M11.5 18V0L0 12.5H16"/>
</g>
<circle cx="361.3" cy="1635.2" r="24.8" fill="#fff" stroke="#000" stroke-width="1.6"/>
<g transform="translate(343.6 1626.2)" fill="none" stroke="#000" stroke-width="1.5" stroke-linejoin="round">
<path d="M5.6 2.1L8.7 0V18"/>
<path d="M5.4 18H11"/>
</g>
<g transform="translate(363.1 1626.2)" fill="none" stroke="#000" stroke-width="1.5" stroke-linejoin="round">
<path d="M15.5 0H3.6Q0 0 0 3.6V14.4Q0 18 3.6 18H12.4Q16 18 16 14.4V11.6Q16 8 12.4 8H0"/>
</g>
<circle cx="649.6" cy="1633.4" r="24.8" fill="#fff" stroke="#000" stroke-width="1.6"/>
<g transform="translate(631.9 1624.4)" fill="none" stroke="#000" stroke-width="1.5" stroke-linejoin="round">
<path d="M5.6 2.1L8.7 0V18"/>
<path d="M5.4 18H11"/>
</g>
<g transform="translate(651.4 1624.4)" fill="none" stroke="#000" stroke-width="1.5" stroke-linejoin="round">
<path d="M0 3.6Q0 0 3.6 0H12.4Q16 0 16 3.6V5Q16 7.3 13.8 8.3L1.6 14.4Q0.4 15 0.4 16.4V18H16"/>
</g>
<circle cx="662.3" cy="1700.3" r="24.8" fill="#fff" stroke="#000" stroke-width="1.6"/>
<g transform="translate(654.3 1691.3)" fill="none" stroke="#000" stroke-width="1.5" stroke-linejoin="round">
<path d="M16 10H3.6Q0 10 0 6.4V3.6Q0 0 3.6 0H12.4Q16 0 16 3.6V14.4Q16 18 12.4 18H1"/>
</g>
<!-- label -->
<text x="924.3" y="1782.3" font-size="54.6" textLength="324.5" lengthAdjust="spacingAndGlyphs" fill="#000" stroke="none">E3-04985C-01</text>
<text class="wm" x="1113" y="1784.5" font-size="38" fill="#4a7ac8" fill-opacity="0.93" stroke="none">m</text>
<text class="wm" x="1143" y="1784.5" font-size="38" fill="#4cb04c" fill-opacity="0.93" stroke="none">o</text>
<text class="wm" x="1162.5" y="1784.5" font-size="38" fill="#f070b4" fill-opacity="0.93" stroke="none">t</text>
<text class="wm" x="1173.5" y="1784.5" font-size="38" fill="#2fa84a" fill-opacity="0.93" stroke="none">o</text>
<text class="wm" x="1193" y="1784.5" font-size="38" fill="#f0681e" fill-opacity="0.93" stroke="none">r</text>
<text class="wm" x="1206.5" y="1784.5" font-size="38" fill="#f0a01e" fill-opacity="0.93" stroke="none">u</text>
<text class="wm" x="1226" y="1784.5" font-size="38" fill="#f4c81a" fill-opacity="0.93" stroke="none">f</text>
<text x="1242" y="1784.5" font-size="14" fill="#444" stroke="none">.de</text>
</svg>
</body></html>
